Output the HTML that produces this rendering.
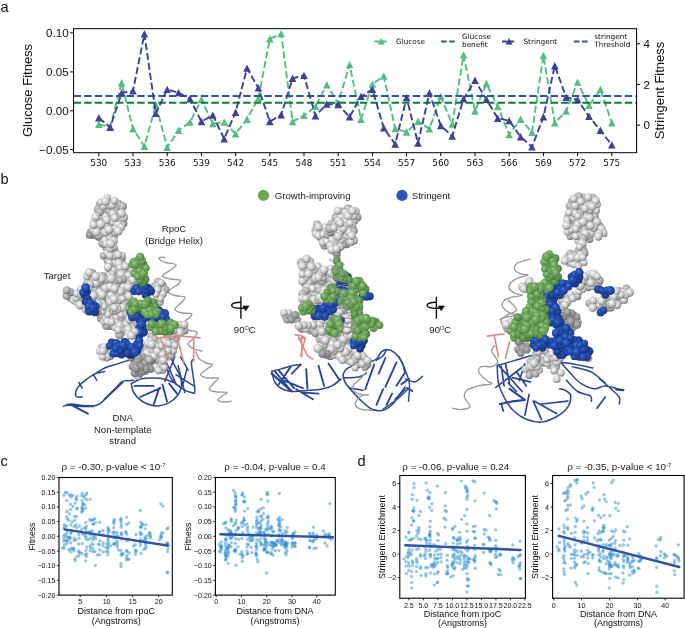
<!DOCTYPE html>
<html><head><meta charset="utf-8"><title>Figure</title>
<style>html,body{margin:0;padding:0;background:#fff}svg{display:block}</style></head>
<body>
<svg width="685" height="628" viewBox="0 0 685 628">
<rect width="685" height="628" fill="#fff"/>
<g id="panel-a">
<path d="M98.8 124.5 L110.2 126.9 L121.6 82.8 L133.0 128.9 L144.4 146.4 L155.8 104.7 L167.2 147.3 L178.6 130.4 L190.0 122.2 L201.4 99.7 L212.8 123.6 L224.2 122.2 L235.6 133.9 L247.0 119.3 L258.4 98.2 L269.8 39.0 L281.2 33.7 L292.6 121.6 L304.0 115.5 L315.4 106.4 L326.8 84.8 L338.2 103.2 L349.6 64.7 L361.0 119.3 L372.4 84.2 L383.8 76.1 L395.2 128.6 L406.6 132.1 L418.0 121.3 L429.4 128.9 L440.8 96.5 L452.2 124.2 L463.6 55.0 L475.0 111.1 L486.4 83.6 L497.8 106.7 L509.2 134.7 L520.6 119.3 L532.0 132.4 L543.4 55.6 L554.8 122.8 L566.2 111.1 L577.6 82.2 L589.0 105.5 L600.4 89.5 L611.8 122.8" stroke="#55bd82" stroke-width="1.9" stroke-dasharray="7 3" fill="none" stroke-linejoin="round"/>
<path d="M98.8 120.7l3.8 7.4h-7.6zM110.2 123.1l3.8 7.4h-7.6zM121.6 79.0l3.8 7.4h-7.6zM133.0 125.1l3.8 7.4h-7.6zM144.4 142.6l3.8 7.4h-7.6zM155.8 100.9l3.8 7.4h-7.6zM167.2 143.5l3.8 7.4h-7.6zM178.6 126.6l3.8 7.4h-7.6zM190.0 118.4l3.8 7.4h-7.6zM201.4 95.9l3.8 7.4h-7.6zM212.8 119.8l3.8 7.4h-7.6zM224.2 118.4l3.8 7.4h-7.6zM235.6 130.1l3.8 7.4h-7.6zM247.0 115.5l3.8 7.4h-7.6zM258.4 94.4l3.8 7.4h-7.6zM269.8 35.2l3.8 7.4h-7.6zM281.2 29.9l3.8 7.4h-7.6zM292.6 117.8l3.8 7.4h-7.6zM304.0 111.7l3.8 7.4h-7.6zM315.4 102.6l3.8 7.4h-7.6zM326.8 81.0l3.8 7.4h-7.6zM338.2 99.4l3.8 7.4h-7.6zM349.6 60.9l3.8 7.4h-7.6zM361.0 115.5l3.8 7.4h-7.6zM372.4 80.4l3.8 7.4h-7.6zM383.8 72.3l3.8 7.4h-7.6zM395.2 124.8l3.8 7.4h-7.6zM406.6 128.3l3.8 7.4h-7.6zM418.0 117.5l3.8 7.4h-7.6zM429.4 125.1l3.8 7.4h-7.6zM440.8 92.7l3.8 7.4h-7.6zM452.2 120.4l3.8 7.4h-7.6zM463.6 51.2l3.8 7.4h-7.6zM475.0 107.3l3.8 7.4h-7.6zM486.4 79.8l3.8 7.4h-7.6zM497.8 102.9l3.8 7.4h-7.6zM509.2 130.9l3.8 7.4h-7.6zM520.6 115.5l3.8 7.4h-7.6zM532.0 128.6l3.8 7.4h-7.6zM543.4 51.8l3.8 7.4h-7.6zM554.8 119.0l3.8 7.4h-7.6zM566.2 107.3l3.8 7.4h-7.6zM577.6 78.4l3.8 7.4h-7.6zM589.0 101.7l3.8 7.4h-7.6zM600.4 85.7l3.8 7.4h-7.6zM611.8 119.0l3.8 7.4h-7.6z" fill="#55bd82"/>
<path d="M73.6 102.7H636.6" stroke="#0a7d37" stroke-width="2" stroke-dasharray="7.4 3.2" fill="none"/>
<path d="M73.6 96.0H636.6" stroke="#2855af" stroke-width="2" stroke-dasharray="7.4 3.2" fill="none"/>
<path d="M98.8 117.8 L110.2 127.4 L121.6 93.0 L133.0 90.9 L144.4 34.0 L155.8 113.4 L167.2 89.5 L178.6 92.7 L190.0 98.8 L201.4 121.6 L212.8 115.2 L224.2 138.8 L235.6 112.3 L247.0 68.2 L258.4 88.0 L269.8 121.6 L281.2 114.9 L292.6 78.4 L304.0 75.5 L315.4 115.8 L326.8 104.1 L338.2 104.7 L349.6 116.9 L361.0 96.5 L372.4 89.5 L383.8 128.0 L395.2 144.1 L406.6 97.7 L418.0 143.2 L429.4 93.0 L440.8 125.7 L452.2 136.2 L463.6 98.8 L475.0 80.4 L486.4 99.4 L497.8 118.4 L509.2 120.7 L520.6 136.8 L532.0 147.0 L543.4 116.9 L554.8 65.8 L566.2 97.4 L577.6 99.7 L589.0 116.4 L600.4 130.4 L611.8 145.0" stroke="#3c4196" stroke-width="1.9" stroke-dasharray="7 3" fill="none" stroke-linejoin="round"/>
<path d="M98.8 114.0l3.8 7.4h-7.6zM110.2 123.6l3.8 7.4h-7.6zM121.6 89.2l3.8 7.4h-7.6zM133.0 87.1l3.8 7.4h-7.6zM144.4 30.2l3.8 7.4h-7.6zM155.8 109.6l3.8 7.4h-7.6zM167.2 85.7l3.8 7.4h-7.6zM178.6 88.9l3.8 7.4h-7.6zM190.0 95.0l3.8 7.4h-7.6zM201.4 117.8l3.8 7.4h-7.6zM212.8 111.4l3.8 7.4h-7.6zM224.2 135.0l3.8 7.4h-7.6zM235.6 108.5l3.8 7.4h-7.6zM247.0 64.4l3.8 7.4h-7.6zM258.4 84.2l3.8 7.4h-7.6zM269.8 117.8l3.8 7.4h-7.6zM281.2 111.1l3.8 7.4h-7.6zM292.6 74.6l3.8 7.4h-7.6zM304.0 71.7l3.8 7.4h-7.6zM315.4 112.0l3.8 7.4h-7.6zM326.8 100.3l3.8 7.4h-7.6zM338.2 100.9l3.8 7.4h-7.6zM349.6 113.1l3.8 7.4h-7.6zM361.0 92.7l3.8 7.4h-7.6zM372.4 85.7l3.8 7.4h-7.6zM383.8 124.2l3.8 7.4h-7.6zM395.2 140.3l3.8 7.4h-7.6zM406.6 93.9l3.8 7.4h-7.6zM418.0 139.4l3.8 7.4h-7.6zM429.4 89.2l3.8 7.4h-7.6zM440.8 121.9l3.8 7.4h-7.6zM452.2 132.4l3.8 7.4h-7.6zM463.6 95.0l3.8 7.4h-7.6zM475.0 76.6l3.8 7.4h-7.6zM486.4 95.6l3.8 7.4h-7.6zM497.8 114.6l3.8 7.4h-7.6zM509.2 116.9l3.8 7.4h-7.6zM520.6 133.0l3.8 7.4h-7.6zM532.0 143.2l3.8 7.4h-7.6zM543.4 113.1l3.8 7.4h-7.6zM554.8 62.0l3.8 7.4h-7.6zM566.2 93.6l3.8 7.4h-7.6zM577.6 95.9l3.8 7.4h-7.6zM589.0 112.6l3.8 7.4h-7.6zM600.4 126.6l3.8 7.4h-7.6zM611.8 141.2l3.8 7.4h-7.6z" fill="#3c4196"/>
<rect x="73.6" y="28.7" width="563.0" height="123.99999999999999" fill="none" stroke="#000" stroke-width="1"/>
<path d="M73.6 32.8h-3.5M73.6 71.9h-3.5M73.6 110.8h-3.5M73.6 149.7h-3.5M636.6 43.8h3.5M636.6 84.5h3.5M636.6 125.2h3.5M98.8 152.7v3.5M133.0 152.7v3.5M167.2 152.7v3.5M201.4 152.7v3.5M235.6 152.7v3.5M269.8 152.7v3.5M304.0 152.7v3.5M338.2 152.7v3.5M372.4 152.7v3.5M406.6 152.7v3.5M440.8 152.7v3.5M475.0 152.7v3.5M509.2 152.7v3.5M543.4 152.7v3.5M577.6 152.7v3.5M611.8 152.7v3.5" stroke="#000" stroke-width="1" fill="none"/>
<g font-family="'Liberation Sans',Arial,sans-serif" font-size="11.6" fill="#111">
<text x="68.6" y="36.9" text-anchor="end">0.10</text>
<text x="68.6" y="76.0" text-anchor="end">0.05</text>
<text x="68.6" y="114.9" text-anchor="end">0.00</text>
<text x="68.6" y="153.8" text-anchor="end">−0.05</text>
<text x="643.6" y="47.9">4</text>
<text x="643.6" y="88.6">2</text>
<text x="643.6" y="129.3">0</text>
</g>
<g font-family="'Liberation Sans',Arial,sans-serif" font-size="13" fill="#111" text-anchor="middle">
<text transform="translate(31.5 90.5) rotate(-90)">Glucose Fitness</text>
<text transform="translate(664 90.5) rotate(-90)">Stringent Fitness</text>
</g>
<g font-family="'DejaVu Sans',sans-serif" font-size="8.9" fill="#111" text-anchor="middle">
<text x="98.8" y="166.3">530</text>
<text x="133.0" y="166.3">533</text>
<text x="167.2" y="166.3">536</text>
<text x="201.4" y="166.3">539</text>
<text x="235.6" y="166.3">542</text>
<text x="269.8" y="166.3">545</text>
<text x="304.0" y="166.3">548</text>
<text x="338.2" y="166.3">551</text>
<text x="372.4" y="166.3">554</text>
<text x="406.6" y="166.3">557</text>
<text x="440.8" y="166.3">560</text>
<text x="475.0" y="166.3">563</text>
<text x="509.2" y="166.3">566</text>
<text x="543.4" y="166.3">569</text>
<text x="577.6" y="166.3">572</text>
<text x="611.8" y="166.3">575</text>
</g>
<path d="M374.5 41.5H388" stroke="#55bd82" stroke-width="1.9" stroke-dasharray="5 2.2" fill="none"/>
<path d="M381.2 37.9l3.5 6.6h-7z" fill="#55bd82"/>
<path d="M441 41.5H455.5" stroke="#0a7d37" stroke-width="2" stroke-dasharray="5.6 2.6" fill="none"/>
<path d="M502 41.5H516" stroke="#3c4196" stroke-width="1.9" stroke-dasharray="5 2.2" fill="none"/>
<path d="M509 37.9l3.5 6.6h-7z" fill="#3c4196"/>
<path d="M573.8 41.5H588" stroke="#2855af" stroke-width="2" stroke-dasharray="5.6 2.6" fill="none"/>
<g font-family="'DejaVu Sans',sans-serif" font-size="7.3" fill="#111">
<text x="396" y="44.1">Glucose</text>
<text x="462" y="38.9">Glucose</text><text x="462" y="46.7">benefit</text>
<text x="523.4" y="44.1">Stringent</text>
<text x="594.3" y="38.9">stringent</text><text x="594.3" y="46.7">Threshold</text>
</g>
<text x="0.5" y="11.5" font-family="'Liberation Sans',Arial,sans-serif" font-size="14.5" fill="#111">a</text>
</g>
<g id="panel-b">
<defs>
<radialGradient id="sg" cx="0.4" cy="0.36" r="0.7"><stop offset="0" stop-color="#fcfcfc"/><stop offset="0.25" stop-color="#e4e4e4"/><stop offset="0.6" stop-color="#bebebe"/><stop offset="0.85" stop-color="#8f8f8f"/><stop offset="1" stop-color="#555555"/></radialGradient>
<radialGradient id="sm" cx="0.4" cy="0.36" r="0.7"><stop offset="0" stop-color="#dadada"/><stop offset="0.3" stop-color="#c0c0c0"/><stop offset="0.7" stop-color="#999999"/><stop offset="1" stop-color="#4e4e4e"/></radialGradient>
<radialGradient id="sd" cx="0.4" cy="0.36" r="0.7"><stop offset="0" stop-color="#bdbdbd"/><stop offset="0.4" stop-color="#9c9c9c"/><stop offset="0.8" stop-color="#7e7e7e"/><stop offset="1" stop-color="#555555"/></radialGradient>
<radialGradient id="sb" cx="0.4" cy="0.36" r="0.7"><stop offset="0" stop-color="#4f7bd8"/><stop offset="0.3" stop-color="#2752b8"/><stop offset="0.75" stop-color="#1b419a"/><stop offset="1" stop-color="#0f2763"/></radialGradient>
<radialGradient id="sc" cx="0.4" cy="0.36" r="0.7"><stop offset="0" stop-color="#3560bd"/><stop offset="0.4" stop-color="#1f4599"/><stop offset="0.8" stop-color="#17357d"/><stop offset="1" stop-color="#0c1f52"/></radialGradient>
<radialGradient id="sn" cx="0.4" cy="0.36" r="0.7"><stop offset="0" stop-color="#a3d193"/><stop offset="0.3" stop-color="#77ac64"/><stop offset="0.75" stop-color="#5f974d"/><stop offset="1" stop-color="#38642d"/></radialGradient>
<radialGradient id="so" cx="0.4" cy="0.36" r="0.7"><stop offset="0" stop-color="#86b776"/><stop offset="0.4" stop-color="#649a52"/><stop offset="0.8" stop-color="#4f8240"/><stop offset="1" stop-color="#2f5526"/></radialGradient>
</defs>
<path d="M165.0 257.6C164.3 257.5 162.0 256.9 161.0 257.2C160.0 257.4 158.4 258.2 159.2 259.1C160.0 260.0 163.2 261.6 166.0 262.5C168.8 263.4 174.9 263.6 175.9 264.7C176.9 265.8 174.2 267.1 172.0 269.0C169.8 270.9 162.8 274.1 162.5 275.8C162.2 277.5 167.0 278.2 170.0 279.0C173.0 279.8 179.2 279.3 180.4 280.3C181.6 281.3 179.1 283.1 177.0 285.0C174.9 286.9 168.4 289.6 168.1 291.4C167.8 293.1 172.2 294.6 175.0 295.5C177.8 296.4 183.6 295.9 184.8 297.0C186.0 298.1 183.7 299.9 182.0 302.0C180.3 304.1 174.8 307.5 174.8 309.3C174.8 311.1 179.2 312.3 182.0 313.0C184.8 313.7 190.3 312.9 191.5 313.7C192.7 314.5 190.7 316.2 189.0 318.0C187.3 319.8 181.7 322.5 181.5 324.5C181.3 326.5 185.4 328.8 188.0 330.0C190.6 331.2 196.0 330.7 197.0 332.0C198.0 333.3 195.5 336.0 194.0 338.0C192.5 340.0 188.0 342.2 188.0 344.0C188.0 345.8 191.7 347.8 194.0 349.0C196.3 350.2 200.7 350.7 202.0 351.0" stroke="#9c9c9c" stroke-width="1.4" fill="none" stroke-linecap="round"/>
<path d="M196.0 352.0C196.5 353.1 197.4 357.0 199.1 358.8C200.8 360.6 203.8 362.0 206.0 363.0C208.2 364.0 212.1 363.7 212.3 364.7C212.5 365.7 208.9 367.3 207.0 369.0C205.1 370.7 200.4 373.4 200.6 374.9C200.8 376.4 205.1 377.5 208.0 378.0C210.9 378.5 217.1 377.0 218.1 377.8C219.1 378.6 215.5 381.1 214.0 383.0C212.5 384.9 208.8 388.0 209.3 389.5C209.8 391.0 214.1 391.5 217.0 392.0C219.9 392.5 226.1 391.7 226.9 392.4C227.7 393.1 223.5 394.8 222.0 396.0C220.5 397.2 217.8 398.7 218.1 399.7C218.4 400.7 221.8 401.8 224.0 402.0C226.2 402.2 230.0 401.3 231.2 401.2" stroke="#9c9c9c" stroke-width="1.4" fill="none" stroke-linecap="round"/>
<path d="M131.3 383.6C131.7 385.1 131.7 389.6 133.6 392.5C135.4 395.5 138.8 399.2 142.5 401.5C146.2 403.7 151.4 405.7 155.9 405.9C160.3 406.1 165.5 404.4 169.2 402.6C172.9 400.7 176.1 397.6 178.1 394.8C180.2 392.0 181.1 388.8 181.5 385.9C181.9 382.9 181.5 380.3 180.4 376.9C179.3 373.6 176.3 368.8 174.8 365.8C173.3 362.8 172.0 360.2 171.5 359.1M131.3 383.6C132.8 382.9 136.5 380.1 140.2 379.2C144.0 378.2 149.5 378.1 153.6 378.1C157.7 378.1 161.1 378.2 164.8 379.2C168.5 380.1 174.1 382.9 175.9 383.6M161.4 354.6C162.2 356.5 164.2 361.7 165.9 365.8C167.6 369.9 168.9 375.5 171.5 379.2C174.1 382.9 178.1 385.9 181.5 388.1C184.8 390.3 189.3 392.2 191.5 392.5C193.7 392.9 194.9 395.1 194.9 390.3C194.9 385.5 191.7 368.8 191.5 363.6C191.3 358.4 193.4 359.8 193.7 359.1M129.1 360.2C127.2 360.8 122.0 362.3 118.0 363.6C113.9 364.9 108.7 366.2 104.6 368.0C100.5 369.9 96.4 372.9 93.4 374.7C90.5 376.6 89.2 377.3 86.7 379.2C84.3 381.0 80.8 383.6 78.9 385.9C77.1 388.1 76.0 390.8 75.6 392.5C75.2 394.3 75.6 395.8 76.7 396.6C77.8 397.3 81.4 396.9 82.3 397.0M133.6 380.3C131.7 380.5 125.4 380.1 122.4 381.4C119.4 382.7 118.3 385.5 115.7 388.1C113.1 390.7 109.4 394.4 106.8 397.0C104.2 399.6 102.4 402.2 100.1 403.7C97.9 405.2 96.4 405.6 93.4 405.9C90.5 406.2 86.0 405.8 82.3 405.5C78.6 405.2 74.3 404.0 71.1 404.1C68.0 404.3 64.6 406.0 63.3 406.4" stroke="#2b459a" stroke-width="1.5" fill="none" stroke-linecap="round" stroke-linejoin="round"/>
<path d="M174.8 356.9 L164.8 381.4M178.1 365.8 L184.8 392.5M187.1 368.0 L182.6 385.9M175.9 374.7 L193.7 385.9M167.0 363.6 L175.9 383.6M180.4 356.9 L188.2 370.2M93.4 374.7 L96.8 380.3M78.9 382.5 L82.3 388.1M97.9 372.9 L104.6 371.4" stroke="#2b459a" stroke-width="1.5" fill="none" stroke-linecap="round" stroke-linejoin="round"/>
<path d="M134.7 385.9 L153.6 385.9M140.2 397.0 L160.3 388.1M153.6 404.8 L159.2 388.1M167.0 401.5 L162.5 384.7M177.0 393.7 L169.2 383.6M71.1 404.8 L87.9 413.7M66.7 404.8 L82.3 406.4 L93.4 406.4M104.6 399.2 L122.4 382.5" stroke="#2b459a" stroke-width="1.9" fill="none" stroke-linecap="round" stroke-linejoin="round"/>
<g fill="url(#sd)"><circle cx="98.5" cy="236.5" r="4.4"/><circle cx="90.8" cy="232.1" r="3.9"/><circle cx="92.6" cy="234.8" r="4.2"/><circle cx="89.5" cy="234.9" r="3.7"/></g>
<g fill="url(#sm)"><circle cx="118.3" cy="203.8" r="4.4"/><circle cx="108.9" cy="209.3" r="4.1"/><circle cx="121.3" cy="220.3" r="4.5"/><circle cx="123.3" cy="223.4" r="4.1"/><circle cx="103.2" cy="220.0" r="4.6"/><circle cx="99.4" cy="204.3" r="3.7"/><circle cx="109.0" cy="223.4" r="4.4"/><circle cx="107.4" cy="212.2" r="4.3"/><circle cx="103.7" cy="236.4" r="3.7"/><circle cx="103.1" cy="213.3" r="4.0"/><circle cx="111.3" cy="216.8" r="4.5"/><circle cx="97.8" cy="224.5" r="3.9"/><circle cx="115.6" cy="208.7" r="4.0"/><circle cx="116.0" cy="213.3" r="3.7"/><circle cx="122.4" cy="206.4" r="4.5"/><circle cx="110.3" cy="232.5" r="3.5"/><circle cx="98.0" cy="209.3" r="4.1"/><circle cx="113.6" cy="236.3" r="4.2"/><circle cx="100.5" cy="217.5" r="4.1"/><circle cx="99.8" cy="211.9" r="4.4"/><circle cx="109.4" cy="201.7" r="3.9"/></g>
<g fill="url(#sg)"><circle cx="102.3" cy="232.9" r="3.9"/><circle cx="104.4" cy="224.9" r="4.6"/><circle cx="98.6" cy="235.3" r="3.6"/><circle cx="114.7" cy="231.9" r="4.5"/><circle cx="108.7" cy="204.9" r="4.4"/><circle cx="108.6" cy="235.9" r="4.5"/><circle cx="93.7" cy="221.8" r="3.6"/><circle cx="108.9" cy="239.0" r="3.8"/><circle cx="107.3" cy="198.0" r="3.9"/><circle cx="103.5" cy="206.4" r="3.6"/><circle cx="112.5" cy="222.0" r="3.8"/><circle cx="123.6" cy="217.2" r="4.6"/><circle cx="112.1" cy="204.8" r="4.5"/><circle cx="100.8" cy="201.8" r="3.8"/><circle cx="121.6" cy="213.4" r="4.3"/><circle cx="105.4" cy="216.6" r="3.5"/><circle cx="118.0" cy="224.5" r="4.1"/><circle cx="115.6" cy="228.9" r="3.5"/><circle cx="121.1" cy="227.2" r="3.9"/><circle cx="93.4" cy="229.8" r="4.0"/><circle cx="112.7" cy="213.5" r="3.8"/><circle cx="105.5" cy="201.4" r="4.5"/><circle cx="114.2" cy="200.7" r="3.7"/><circle cx="118.1" cy="231.1" r="4.5"/><circle cx="106.7" cy="220.1" r="4.0"/><circle cx="98.5" cy="227.4" r="3.5"/><circle cx="105.6" cy="232.3" r="4.1"/><circle cx="95.6" cy="216.9" r="4.3"/><circle cx="96.5" cy="231.9" r="4.5"/><circle cx="93.4" cy="224.9" r="4.0"/><circle cx="100.8" cy="224.1" r="4.6"/><circle cx="108.9" cy="229.7" r="4.5"/><circle cx="114.7" cy="218.0" r="4.1"/></g>
<g fill="url(#sm)"><circle cx="114.6" cy="251.0" r="4.2"/><circle cx="121.4" cy="258.4" r="4.4"/><circle cx="105.8" cy="247.6" r="3.6"/><circle cx="125.9" cy="278.3" r="4.2"/><circle cx="122.2" cy="264.6" r="4.3"/><circle cx="123.8" cy="275.6" r="3.5"/><circle cx="102.7" cy="243.3" r="4.5"/><circle cx="109.5" cy="269.8" r="3.7"/><circle cx="116.1" cy="274.5" r="4.0"/><circle cx="107.2" cy="260.4" r="3.7"/><circle cx="115.0" cy="266.3" r="4.0"/><circle cx="123.8" cy="271.4" r="4.2"/><circle cx="103.3" cy="255.8" r="3.6"/><circle cx="131.1" cy="270.0" r="4.5"/><circle cx="110.6" cy="260.1" r="4.0"/></g>
<g fill="url(#sg)"><circle cx="113.8" cy="240.8" r="4.1"/><circle cx="132.9" cy="274.5" r="4.2"/><circle cx="121.9" cy="255.6" r="3.9"/><circle cx="107.4" cy="252.9" r="3.8"/><circle cx="113.4" cy="247.0" r="4.2"/><circle cx="117.7" cy="270.7" r="4.1"/><circle cx="114.5" cy="262.9" r="3.8"/><circle cx="112.8" cy="270.8" r="4.3"/><circle cx="104.8" cy="240.4" r="3.8"/><circle cx="109.3" cy="262.9" r="3.5"/><circle cx="113.7" cy="256.5" r="3.8"/><circle cx="111.6" cy="274.1" r="3.5"/><circle cx="105.9" cy="243.9" r="3.7"/><circle cx="108.0" cy="267.1" r="4.3"/><circle cx="110.3" cy="248.5" r="3.9"/><circle cx="118.7" cy="263.6" r="4.5"/><circle cx="108.0" cy="276.2" r="4.3"/><circle cx="119.8" cy="267.6" r="3.6"/><circle cx="110.8" cy="243.8" r="4.6"/><circle cx="121.1" cy="274.4" r="4.5"/><circle cx="110.0" cy="255.8" r="3.6"/><circle cx="128.5" cy="276.1" r="4.5"/><circle cx="125.1" cy="266.2" r="4.0"/><circle cx="118.2" cy="254.7" r="4.0"/></g>
<g fill="url(#sm)"><circle cx="105.2" cy="302.1" r="4.4"/><circle cx="125.6" cy="298.1" r="3.6"/><circle cx="119.3" cy="312.0" r="3.6"/><circle cx="102.7" cy="299.7" r="4.5"/><circle cx="102.6" cy="288.5" r="3.9"/><circle cx="120.5" cy="286.7" r="4.1"/><circle cx="112.8" cy="292.6" r="4.0"/><circle cx="110.1" cy="326.4" r="3.5"/><circle cx="127.8" cy="280.4" r="4.5"/><circle cx="129.5" cy="291.9" r="3.8"/><circle cx="123.1" cy="279.4" r="4.2"/><circle cx="100.8" cy="318.2" r="4.0"/><circle cx="123.4" cy="319.8" r="3.9"/><circle cx="107.0" cy="283.7" r="3.9"/><circle cx="92.9" cy="279.7" r="4.4"/><circle cx="116.6" cy="284.2" r="4.5"/><circle cx="106.3" cy="325.3" r="4.5"/><circle cx="115.0" cy="295.8" r="3.8"/><circle cx="108.2" cy="291.4" r="4.4"/><circle cx="97.1" cy="288.5" r="3.8"/><circle cx="97.3" cy="279.3" r="4.5"/><circle cx="117.6" cy="292.1" r="4.6"/><circle cx="105.5" cy="296.5" r="4.0"/><circle cx="126.4" cy="306.0" r="3.6"/><circle cx="113.2" cy="314.3" r="4.5"/><circle cx="103.0" cy="276.2" r="4.1"/><circle cx="109.5" cy="307.3" r="4.2"/><circle cx="115.6" cy="302.5" r="4.5"/><circle cx="121.5" cy="322.5" r="4.5"/><circle cx="98.9" cy="298.9" r="4.6"/><circle cx="87.0" cy="283.0" r="4.3"/><circle cx="105.5" cy="280.3" r="4.5"/><circle cx="97.6" cy="295.3" r="3.9"/><circle cx="124.1" cy="311.7" r="4.1"/><circle cx="91.4" cy="288.0" r="4.1"/><circle cx="119.7" cy="280.3" r="3.7"/><circle cx="123.7" cy="296.1" r="4.2"/><circle cx="92.3" cy="273.1" r="4.0"/><circle cx="94.8" cy="290.4" r="3.6"/></g>
<g fill="url(#sg)"><circle cx="135.7" cy="282.9" r="3.6"/><circle cx="98.8" cy="282.4" r="4.1"/><circle cx="111.9" cy="305.6" r="3.6"/><circle cx="129.5" cy="304.1" r="4.5"/><circle cx="120.0" cy="296.3" r="4.1"/><circle cx="118.6" cy="319.2" r="4.0"/><circle cx="86.9" cy="276.3" r="3.8"/><circle cx="105.7" cy="288.2" r="4.3"/><circle cx="99.5" cy="275.3" r="3.5"/><circle cx="132.6" cy="286.6" r="3.7"/><circle cx="99.9" cy="292.3" r="4.0"/><circle cx="127.9" cy="311.6" r="4.0"/><circle cx="115.4" cy="317.9" r="4.1"/><circle cx="109.5" cy="298.8" r="3.7"/><circle cx="90.3" cy="292.2" r="4.3"/><circle cx="110.9" cy="295.2" r="3.8"/><circle cx="119.5" cy="303.8" r="3.8"/><circle cx="130.1" cy="284.1" r="4.0"/><circle cx="121.4" cy="314.6" r="3.8"/><circle cx="126.9" cy="290.2" r="3.9"/><circle cx="123.9" cy="302.3" r="3.7"/><circle cx="89.1" cy="272.4" r="4.4"/><circle cx="128.9" cy="296.1" r="4.4"/><circle cx="113.8" cy="310.7" r="4.5"/><circle cx="109.8" cy="311.4" r="3.7"/><circle cx="95.8" cy="283.3" r="4.4"/><circle cx="100.1" cy="314.2" r="4.3"/><circle cx="112.6" cy="284.0" r="3.6"/><circle cx="123.5" cy="287.0" r="3.8"/><circle cx="101.3" cy="278.8" r="4.4"/><circle cx="122.5" cy="307.5" r="4.5"/><circle cx="117.1" cy="306.5" r="3.5"/><circle cx="109.9" cy="286.9" r="4.2"/><circle cx="110.0" cy="318.3" r="4.3"/><circle cx="117.0" cy="298.5" r="4.1"/><circle cx="132.6" cy="280.0" r="4.1"/><circle cx="102.0" cy="303.2" r="3.8"/><circle cx="128.0" cy="287.1" r="4.5"/><circle cx="102.1" cy="294.9" r="4.6"/><circle cx="113.9" cy="280.4" r="4.2"/><circle cx="103.9" cy="321.4" r="3.8"/><circle cx="120.5" cy="291.4" r="4.4"/><circle cx="95.2" cy="299.9" r="4.6"/><circle cx="106.8" cy="309.7" r="3.8"/><circle cx="109.8" cy="302.1" r="4.0"/><circle cx="114.6" cy="288.6" r="4.5"/><circle cx="90.3" cy="284.2" r="3.9"/><circle cx="111.3" cy="278.5" r="4.6"/><circle cx="116.0" cy="323.6" r="4.4"/><circle cx="106.0" cy="318.0" r="4.0"/><circle cx="107.6" cy="314.6" r="3.7"/><circle cx="95.7" cy="276.5" r="4.4"/><circle cx="102.3" cy="311.7" r="3.6"/><circle cx="115.7" cy="327.2" r="4.3"/><circle cx="107.4" cy="321.5" r="3.8"/><circle cx="119.7" cy="325.4" r="4.3"/><circle cx="103.7" cy="306.3" r="4.1"/><circle cx="88.5" cy="287.0" r="3.8"/><circle cx="111.6" cy="322.2" r="3.8"/></g>
<g fill="url(#sm)"><circle cx="87.3" cy="294.0" r="3.9"/><circle cx="70.7" cy="297.7" r="4.2"/><circle cx="66.7" cy="295.5" r="4.3"/><circle cx="70.3" cy="292.0" r="4.0"/><circle cx="91.8" cy="301.0" r="4.0"/><circle cx="93.7" cy="305.0" r="4.2"/><circle cx="83.6" cy="290.1" r="3.7"/><circle cx="97.5" cy="311.9" r="4.0"/><circle cx="81.3" cy="300.5" r="4.1"/><circle cx="66.8" cy="290.3" r="4.0"/><circle cx="80.9" cy="296.9" r="3.6"/></g>
<g fill="url(#sg)"><circle cx="93.5" cy="311.3" r="3.8"/><circle cx="88.1" cy="290.1" r="4.5"/><circle cx="73.8" cy="300.0" r="4.2"/><circle cx="88.0" cy="300.2" r="4.1"/><circle cx="86.0" cy="309.2" r="4.3"/><circle cx="77.2" cy="301.9" r="4.1"/><circle cx="91.8" cy="307.5" r="4.1"/><circle cx="98.3" cy="304.2" r="4.2"/><circle cx="76.1" cy="298.1" r="3.7"/><circle cx="96.6" cy="308.5" r="3.6"/><circle cx="90.0" cy="305.3" r="3.6"/><circle cx="80.0" cy="305.1" r="4.3"/><circle cx="85.0" cy="297.5" r="4.4"/><circle cx="76.7" cy="293.7" r="3.7"/><circle cx="80.7" cy="288.9" r="3.8"/><circle cx="81.5" cy="294.0" r="4.4"/><circle cx="85.6" cy="305.2" r="3.6"/></g>
<g fill="url(#sm)"><circle cx="162.8" cy="285.1" r="3.9"/><circle cx="165.9" cy="289.4" r="3.6"/><circle cx="159.4" cy="293.5" r="3.9"/><circle cx="158.0" cy="281.6" r="3.9"/><circle cx="155.1" cy="285.8" r="4.0"/></g>
<g fill="url(#sg)"><circle cx="159.9" cy="301.9" r="3.8"/><circle cx="161.6" cy="289.2" r="3.7"/><circle cx="158.4" cy="285.9" r="3.9"/><circle cx="162.8" cy="293.7" r="4.0"/><circle cx="160.9" cy="283.0" r="3.7"/><circle cx="157.5" cy="289.8" r="4.2"/><circle cx="160.5" cy="298.5" r="3.8"/><circle cx="155.8" cy="294.5" r="3.6"/></g>
<g fill="url(#sm)"><circle cx="130.3" cy="326.0" r="4.0"/><circle cx="126.5" cy="314.7" r="4.6"/><circle cx="124.6" cy="334.6" r="3.8"/><circle cx="124.6" cy="326.8" r="3.6"/><circle cx="130.4" cy="322.6" r="4.0"/><circle cx="134.3" cy="326.0" r="4.3"/><circle cx="122.2" cy="330.4" r="4.5"/><circle cx="137.0" cy="323.3" r="3.6"/><circle cx="138.8" cy="334.2" r="4.0"/><circle cx="137.9" cy="327.5" r="3.6"/><circle cx="119.5" cy="334.6" r="4.5"/></g>
<g fill="url(#sg)"><circle cx="93.4" cy="295.5" r="4.6"/><circle cx="119.1" cy="300.4" r="3.6"/><circle cx="114.0" cy="299.3" r="4.5"/><circle cx="132.7" cy="329.8" r="4.4"/><circle cx="126.4" cy="323.7" r="3.7"/><circle cx="118.2" cy="330.0" r="3.9"/><circle cx="128.4" cy="329.5" r="4.5"/><circle cx="128.7" cy="334.5" r="4.6"/><circle cx="143.1" cy="333.2" r="3.7"/><circle cx="142.0" cy="330.1" r="3.8"/><circle cx="117.3" cy="309.6" r="4.0"/><circle cx="129.2" cy="319.4" r="4.2"/><circle cx="122.3" cy="298.7" r="3.5"/><circle cx="142.5" cy="325.3" r="4.3"/><circle cx="135.0" cy="335.2" r="4.0"/><circle cx="114.4" cy="307.8" r="4.0"/><circle cx="126.3" cy="338.0" r="3.6"/></g>
<g fill="url(#sm)"><circle cx="171.6" cy="325.0" r="4.2"/><circle cx="184.6" cy="330.7" r="3.8"/><circle cx="181.9" cy="326.4" r="4.2"/><circle cx="169.3" cy="328.1" r="3.5"/></g>
<g fill="url(#sg)"><circle cx="176.1" cy="338.2" r="4.2"/><circle cx="176.5" cy="334.4" r="3.5"/><circle cx="179.1" cy="324.6" r="3.9"/><circle cx="175.0" cy="325.1" r="4.2"/><circle cx="180.0" cy="332.5" r="4.5"/><circle cx="184.4" cy="324.7" r="3.9"/><circle cx="172.3" cy="335.7" r="3.8"/><circle cx="173.7" cy="330.7" r="3.6"/></g>
<g fill="url(#sm)"><circle cx="108.8" cy="352.2" r="4.5"/><circle cx="110.3" cy="348.4" r="4.5"/><circle cx="110.3" cy="356.5" r="3.5"/><circle cx="101.7" cy="347.5" r="3.9"/></g>
<g fill="url(#sg)"><circle cx="106.6" cy="357.4" r="4.1"/><circle cx="111.8" cy="352.5" r="4.1"/><circle cx="99.4" cy="351.2" r="3.6"/><circle cx="104.6" cy="347.6" r="4.4"/><circle cx="102.6" cy="356.7" r="3.8"/><circle cx="102.8" cy="351.1" r="4.1"/></g>
<g fill="url(#sm)"><circle cx="133.1" cy="359.1" r="3.7"/><circle cx="158.1" cy="355.1" r="3.7"/><circle cx="143.0" cy="358.4" r="4.1"/><circle cx="151.5" cy="336.3" r="4.2"/><circle cx="142.6" cy="350.4" r="3.6"/><circle cx="153.5" cy="363.3" r="4.3"/><circle cx="144.5" cy="347.7" r="4.1"/><circle cx="141.5" cy="371.2" r="4.5"/><circle cx="152.7" cy="366.6" r="4.5"/><circle cx="149.2" cy="364.1" r="4.3"/><circle cx="157.3" cy="359.9" r="3.9"/><circle cx="135.6" cy="363.9" r="4.5"/><circle cx="154.8" cy="346.7" r="4.3"/><circle cx="154.4" cy="339.2" r="3.8"/><circle cx="151.9" cy="359.7" r="4.4"/></g>
<g fill="url(#sg)"><circle cx="155.9" cy="367.5" r="4.3"/><circle cx="150.2" cy="340.7" r="3.8"/><circle cx="135.5" cy="371.7" r="3.8"/><circle cx="134.5" cy="367.8" r="3.5"/><circle cx="158.4" cy="348.0" r="4.1"/><circle cx="162.4" cy="370.3" r="3.8"/><circle cx="139.0" cy="360.3" r="3.8"/><circle cx="157.1" cy="345.2" r="3.8"/><circle cx="149.2" cy="346.7" r="3.6"/><circle cx="148.2" cy="343.5" r="4.0"/><circle cx="158.6" cy="370.5" r="3.8"/><circle cx="150.3" cy="352.0" r="3.8"/><circle cx="141.0" cy="354.5" r="3.8"/><circle cx="138.3" cy="376.1" r="4.1"/><circle cx="138.2" cy="366.3" r="4.5"/><circle cx="145.4" cy="371.0" r="3.7"/><circle cx="146.9" cy="353.0" r="4.4"/><circle cx="151.6" cy="344.4" r="4.4"/><circle cx="162.4" cy="364.1" r="4.2"/><circle cx="157.3" cy="351.4" r="4.1"/><circle cx="148.7" cy="356.5" r="4.3"/><circle cx="141.7" cy="364.6" r="4.1"/><circle cx="153.7" cy="356.6" r="4.2"/></g>
<g fill="url(#sd)"><circle cx="150.9" cy="361.0" r="3.8"/><circle cx="139.8" cy="373.6" r="3.8"/><circle cx="143.0" cy="358.1" r="4.6"/><circle cx="140.7" cy="363.3" r="4.0"/><circle cx="133.5" cy="359.4" r="3.7"/><circle cx="147.9" cy="358.8" r="3.7"/><circle cx="134.7" cy="373.0" r="4.2"/><circle cx="138.8" cy="359.0" r="4.4"/><circle cx="137.1" cy="361.7" r="4.3"/><circle cx="138.3" cy="370.4" r="4.2"/><circle cx="148.7" cy="364.9" r="3.6"/><circle cx="150.5" cy="369.1" r="3.9"/><circle cx="142.4" cy="370.7" r="4.6"/><circle cx="144.9" cy="363.3" r="3.7"/><circle cx="134.9" cy="365.0" r="3.9"/><circle cx="131.0" cy="357.6" r="3.8"/><circle cx="146.0" cy="368.8" r="3.9"/></g>
<g fill="url(#sm)"><circle cx="160.2" cy="341.7" r="3.6"/><circle cx="173.1" cy="343.0" r="4.2"/><circle cx="166.5" cy="355.5" r="4.5"/><circle cx="166.8" cy="339.2" r="4.3"/><circle cx="170.9" cy="355.3" r="4.5"/></g>
<g fill="url(#sg)"><circle cx="172.9" cy="350.7" r="4.0"/><circle cx="166.0" cy="346.4" r="3.9"/><circle cx="164.9" cy="350.1" r="3.6"/><circle cx="168.2" cy="350.4" r="3.8"/><circle cx="164.1" cy="342.4" r="4.5"/><circle cx="162.5" cy="354.6" r="3.6"/><circle cx="161.4" cy="345.9" r="3.7"/><circle cx="168.7" cy="343.6" r="3.9"/><circle cx="174.9" cy="345.7" r="3.6"/></g>
<g fill="url(#sm)"><circle cx="149.1" cy="359.8" r="4.3"/></g>
<g fill="url(#sg)"><circle cx="164.3" cy="367.4" r="3.8"/><circle cx="163.2" cy="360.5" r="4.3"/></g>
<g fill="url(#sd)"><circle cx="132.4" cy="366.5" r="3.8"/><circle cx="140.3" cy="367.0" r="4.2"/><circle cx="135.8" cy="368.1" r="4.4"/></g>
<g fill="url(#sc)"><circle cx="86.5" cy="291.8" r="4.4"/><circle cx="84.8" cy="295.0" r="4.1"/><circle cx="87.3" cy="299.2" r="4.5"/><circle cx="85.6" cy="301.7" r="3.8"/><circle cx="94.8" cy="311.8" r="4.4"/></g>
<g fill="url(#sb)"><circle cx="96.3" cy="306.0" r="3.5"/><circle cx="93.4" cy="304.1" r="3.6"/><circle cx="82.7" cy="292.4" r="3.6"/><circle cx="89.3" cy="311.0" r="4.6"/><circle cx="85.7" cy="287.8" r="4.5"/><circle cx="90.2" cy="303.0" r="3.7"/><circle cx="88.5" cy="306.3" r="3.8"/><circle cx="92.7" cy="307.8" r="4.5"/></g>
<g fill="url(#sc)"><circle cx="145.8" cy="294.9" r="4.1"/><circle cx="142.2" cy="283.5" r="4.6"/><circle cx="148.0" cy="287.7" r="3.9"/><circle cx="150.8" cy="291.1" r="4.3"/></g>
<g fill="url(#sb)"><circle cx="141.3" cy="287.9" r="3.5"/><circle cx="134.2" cy="290.9" r="4.0"/><circle cx="136.5" cy="288.1" r="4.3"/><circle cx="138.7" cy="291.6" r="3.8"/><circle cx="146.0" cy="290.0" r="4.2"/><circle cx="145.2" cy="286.3" r="3.7"/></g>
<g fill="url(#sc)"><circle cx="140.9" cy="316.8" r="4.0"/><circle cx="139.3" cy="335.4" r="4.2"/><circle cx="130.4" cy="311.9" r="3.9"/><circle cx="138.3" cy="313.6" r="4.3"/><circle cx="142.8" cy="320.6" r="3.9"/><circle cx="143.6" cy="331.9" r="4.4"/></g>
<g fill="url(#sb)"><circle cx="139.3" cy="319.9" r="4.0"/><circle cx="143.3" cy="327.2" r="3.6"/><circle cx="132.1" cy="317.3" r="4.0"/><circle cx="145.0" cy="317.9" r="4.2"/><circle cx="137.3" cy="343.8" r="4.4"/><circle cx="139.3" cy="327.9" r="4.3"/><circle cx="139.1" cy="340.9" r="4.3"/><circle cx="141.2" cy="324.2" r="4.2"/><circle cx="136.1" cy="316.0" r="4.5"/><circle cx="140.0" cy="332.3" r="3.5"/></g>
<g fill="url(#sc)"><circle cx="143.9" cy="313.3" r="4.6"/><circle cx="156.2" cy="319.0" r="3.7"/><circle cx="140.0" cy="308.3" r="3.7"/><circle cx="148.0" cy="311.9" r="4.4"/><circle cx="158.5" cy="309.6" r="3.7"/><circle cx="142.4" cy="305.7" r="3.7"/><circle cx="161.2" cy="319.1" r="3.9"/><circle cx="149.8" cy="317.3" r="4.3"/></g>
<g fill="url(#sb)"><circle cx="137.8" cy="305.4" r="4.3"/><circle cx="151.1" cy="312.1" r="4.4"/><circle cx="153.0" cy="315.3" r="4.2"/><circle cx="152.7" cy="320.5" r="4.3"/><circle cx="164.7" cy="313.6" r="4.5"/><circle cx="135.3" cy="307.2" r="4.2"/><circle cx="165.8" cy="319.5" r="4.6"/><circle cx="133.6" cy="304.7" r="4.4"/><circle cx="160.5" cy="312.5" r="4.5"/><circle cx="158.4" cy="315.9" r="4.3"/><circle cx="133.2" cy="311.8" r="3.9"/><circle cx="162.7" cy="316.5" r="3.6"/></g>
<g fill="url(#sc)"><circle cx="121.4" cy="354.4" r="4.2"/><circle cx="131.3" cy="354.2" r="4.6"/><circle cx="111.7" cy="342.3" r="3.7"/><circle cx="125.9" cy="348.9" r="3.9"/><circle cx="124.6" cy="342.1" r="4.1"/><circle cx="134.4" cy="348.7" r="3.6"/><circle cx="127.9" cy="353.3" r="4.4"/><circle cx="137.9" cy="351.0" r="3.6"/></g>
<g fill="url(#sb)"><circle cx="113.4" cy="353.4" r="4.2"/><circle cx="139.8" cy="345.6" r="3.8"/><circle cx="116.4" cy="343.0" r="3.9"/><circle cx="118.5" cy="346.1" r="4.2"/><circle cx="116.9" cy="353.6" r="3.7"/><circle cx="127.0" cy="344.5" r="4.0"/><circle cx="119.7" cy="350.0" r="4.4"/><circle cx="122.9" cy="345.6" r="4.6"/><circle cx="109.5" cy="346.0" r="3.8"/><circle cx="131.7" cy="347.0" r="3.9"/><circle cx="135.0" cy="352.2" r="4.3"/><circle cx="115.4" cy="348.5" r="3.7"/></g>
<g fill="url(#sg)"><circle cx="134.8" cy="331.8" r="3.8"/><circle cx="131.3" cy="335.6" r="4.4"/></g>
<g fill="url(#so)"><circle cx="145.2" cy="279.3" r="4.3"/><circle cx="142.5" cy="282.8" r="3.9"/><circle cx="140.9" cy="277.3" r="4.0"/><circle cx="142.8" cy="268.2" r="4.3"/><circle cx="143.2" cy="264.2" r="4.3"/><circle cx="139.5" cy="265.8" r="4.0"/><circle cx="139.8" cy="281.1" r="3.6"/></g>
<g fill="url(#sn)"><circle cx="132.0" cy="264.4" r="3.6"/><circle cx="134.1" cy="273.3" r="3.7"/><circle cx="138.4" cy="260.0" r="4.4"/><circle cx="142.0" cy="260.6" r="4.0"/><circle cx="137.4" cy="268.6" r="4.2"/><circle cx="140.2" cy="256.7" r="3.9"/><circle cx="139.8" cy="271.3" r="3.9"/><circle cx="137.5" cy="276.4" r="3.7"/><circle cx="143.4" cy="273.3" r="4.6"/><circle cx="133.6" cy="261.9" r="4.2"/><circle cx="146.1" cy="268.0" r="3.6"/><circle cx="135.1" cy="264.4" r="4.3"/></g>
<g fill="url(#so)"><circle cx="131.8" cy="304.0" r="4.6"/><circle cx="139.0" cy="307.9" r="4.1"/></g>
<g fill="url(#sn)"><circle cx="131.7" cy="311.5" r="4.2"/><circle cx="133.9" cy="301.5" r="4.1"/><circle cx="140.8" cy="303.9" r="4.4"/><circle cx="134.4" cy="308.7" r="4.0"/><circle cx="135.6" cy="304.0" r="3.6"/></g>
<g fill="url(#so)"><circle cx="153.5" cy="302.3" r="4.0"/><circle cx="151.5" cy="307.1" r="4.0"/><circle cx="146.9" cy="306.8" r="4.1"/><circle cx="155.3" cy="306.3" r="3.8"/><circle cx="147.8" cy="300.7" r="4.4"/></g>
<g fill="url(#sn)"><circle cx="153.3" cy="311.5" r="3.9"/><circle cx="145.1" cy="311.9" r="4.4"/><circle cx="144.9" cy="304.1" r="4.4"/><circle cx="149.7" cy="310.2" r="3.5"/><circle cx="147.3" cy="314.5" r="4.1"/><circle cx="157.4" cy="311.6" r="3.6"/><circle cx="155.4" cy="313.9" r="4.5"/><circle cx="151.0" cy="314.5" r="3.6"/></g>
<g fill="url(#so)"><circle cx="164.0" cy="324.8" r="4.3"/><circle cx="157.4" cy="328.9" r="3.8"/><circle cx="170.7" cy="323.0" r="4.3"/><circle cx="170.0" cy="331.2" r="4.4"/><circle cx="164.8" cy="332.2" r="3.6"/></g>
<g fill="url(#sn)"><circle cx="163.8" cy="327.7" r="3.7"/><circle cx="154.6" cy="325.2" r="3.8"/><circle cx="174.6" cy="324.8" r="4.3"/><circle cx="150.3" cy="327.0" r="4.3"/><circle cx="160.3" cy="331.4" r="3.8"/><circle cx="155.7" cy="331.6" r="4.0"/><circle cx="171.0" cy="328.2" r="3.9"/><circle cx="151.5" cy="324.1" r="4.0"/><circle cx="161.3" cy="323.6" r="4.4"/></g>
<path d="M157.0 337.9 L178.1 335.7 L200.0 337.9M161.4 340.2 L169.2 360.2M177.0 336.8 L183.7 362.4M193.7 337.9 L193.7 361.3" stroke="#dd8a86" stroke-width="1.6" fill="none" stroke-linecap="round" stroke-linejoin="round"/>
<path d="M271.7 371.3C273.2 371.0 277.3 370.0 280.6 369.1C283.9 368.2 288.4 366.5 291.7 365.8C295.1 365.0 299.2 364.8 300.7 364.6M271.7 371.3C272.2 373.2 273.2 379.5 275.0 382.5C276.9 385.5 279.7 387.7 282.8 389.2C286.0 390.7 289.9 391.2 294.0 391.4C298.1 391.6 302.9 390.7 307.4 390.3C311.8 389.9 316.6 389.9 320.7 389.2C324.8 388.4 328.5 387.5 331.9 385.8C335.2 384.2 339.3 380.2 340.8 379.1M343.0 374.7C343.6 373.7 344.1 370.8 346.4 369.1C348.6 367.4 352.9 365.8 356.4 364.6C359.9 363.5 364.2 363.3 367.5 362.4C370.9 361.5 374.2 360.7 376.5 359.1C378.7 357.4 379.2 354.0 380.9 352.4C382.6 350.8 384.3 349.5 386.5 349.5C388.7 349.5 391.7 350.2 394.3 352.4C396.9 354.5 400.3 358.9 402.1 362.4C403.9 365.9 404.5 371.7 405.0 373.6M386.5 349.5C385.9 350.5 384.8 353.9 383.1 355.7C381.5 357.5 377.6 359.4 376.5 360.2M343.0 374.7C343.4 376.0 343.4 379.3 345.2 382.5C347.1 385.6 351.2 390.3 354.2 393.6C357.1 397.0 360.1 399.9 363.1 402.5C366.1 405.1 368.7 407.9 372.0 409.2C375.3 410.5 379.8 411.1 383.1 410.3C386.5 409.6 389.5 407.2 392.1 404.8C394.7 402.4 396.6 398.8 398.7 395.9C400.9 392.9 404.0 388.4 405.0 386.9M343.0 378.0C345.6 377.8 354.7 377.6 358.6 376.9C362.5 376.2 365.1 374.1 366.4 373.6M349.7 388.1 L363.1 390.3" stroke="#2b459a" stroke-width="1.5" fill="none" stroke-linecap="round" stroke-linejoin="round"/>
<path d="M275.0 371.3 L289.5 389.2M278.4 370.2 L294.0 388.1M290.6 366.9 L278.4 384.7M300.7 364.6 L291.7 373.6M306.2 369.1 L307.4 388.1M318.5 365.8 L324.1 385.8M328.5 363.5 L339.7 380.2M296.2 389.2 L312.9 399.2M302.9 392.5 L318.5 393.6M282.8 380.2 L302.9 388.1M374.2 364.6 L365.3 389.2M385.4 358.0 L378.7 373.6M396.5 362.4 L385.4 386.9M383.1 389.2 L376.5 404.8M392.1 393.6 L386.5 404.8M404.3 373.6 L396.5 385.8M405.0 389.2 L395.4 399.2" stroke="#2b459a" stroke-width="1.9" fill="none" stroke-linecap="round" stroke-linejoin="round"/>
<path d="M271.7 373.6 L291.7 391.4" stroke="#2b459a" stroke-width="2.2" fill="none" stroke-linecap="round" stroke-linejoin="round"/>
<path d="M399.0 356.5C400.1 358.9 403.8 366.3 405.6 370.9C407.3 375.5 409.0 379.0 409.5 384.1C410.0 389.1 408.6 398.3 408.5 401.2M405.6 378.8C407.1 379.3 411.9 382.4 414.8 382.0C417.6 381.5 421.3 377.2 422.6 376.2M409.0 388.0C406.9 390.0 400.7 396.3 396.4 399.8C392.1 403.3 385.4 407.5 383.2 409.0" stroke="#2b459a" stroke-width="1.4" fill="none" stroke-linecap="round" stroke-linejoin="round"/>
<path d="M401.6 384.1 L409.0 378.8M406.9 388.0 L412.1 390.9" stroke="#2b459a" stroke-width="2.0" fill="none" stroke-linecap="round" stroke-linejoin="round"/>
<path d="M366.4 372.4C365.1 373.7 360.9 378.0 358.6 380.2C356.4 382.5 353.8 384.0 353.1 385.8C352.3 387.7 352.5 389.9 354.2 391.4C355.8 392.9 360.7 394.2 363.1 394.7C365.5 395.3 367.7 394.7 368.7 394.7M363.1 394.7C362.2 395.5 358.8 397.5 357.5 399.2C356.2 400.9 354.7 403.1 355.3 404.8C355.8 406.4 358.1 408.3 360.9 409.2C363.6 410.2 370.1 410.2 372.0 410.3" stroke="#9c9c9c" stroke-width="1.4" fill="none" stroke-linecap="round" stroke-linejoin="round"/>
<g fill="url(#sm)"><circle cx="320.7" cy="237.6" r="4.2"/><circle cx="317.0" cy="224.6" r="4.0"/><circle cx="324.5" cy="245.6" r="4.1"/><circle cx="315.5" cy="230.5" r="4.1"/><circle cx="320.7" cy="230.9" r="4.1"/></g>
<g fill="url(#sg)"><circle cx="324.4" cy="227.7" r="4.4"/><circle cx="323.0" cy="242.3" r="4.4"/><circle cx="315.4" cy="233.8" r="3.6"/><circle cx="327.0" cy="231.4" r="4.3"/><circle cx="318.5" cy="227.1" r="4.2"/><circle cx="318.3" cy="235.6" r="4.2"/><circle cx="326.2" cy="238.5" r="4.5"/><circle cx="323.1" cy="234.3" r="3.6"/><circle cx="327.0" cy="241.5" r="4.0"/></g>
<g fill="url(#sm)"><circle cx="345.6" cy="239.2" r="3.7"/><circle cx="346.5" cy="244.3" r="4.0"/><circle cx="357.4" cy="217.3" r="4.0"/><circle cx="331.5" cy="223.8" r="4.4"/><circle cx="332.3" cy="235.2" r="4.6"/><circle cx="327.9" cy="234.7" r="4.1"/><circle cx="334.1" cy="232.6" r="3.7"/><circle cx="352.1" cy="219.2" r="4.3"/><circle cx="353.4" cy="230.5" r="4.3"/><circle cx="348.1" cy="208.8" r="4.5"/><circle cx="330.4" cy="231.9" r="3.9"/><circle cx="342.8" cy="244.5" r="4.2"/><circle cx="329.5" cy="228.6" r="4.4"/><circle cx="335.6" cy="217.1" r="4.0"/><circle cx="342.0" cy="211.6" r="4.1"/><circle cx="334.7" cy="223.8" r="4.3"/><circle cx="354.5" cy="221.1" r="3.7"/><circle cx="337.8" cy="244.2" r="4.3"/></g>
<g fill="url(#sg)"><circle cx="347.5" cy="235.7" r="4.1"/><circle cx="355.4" cy="211.4" r="4.4"/><circle cx="352.6" cy="225.0" r="3.6"/><circle cx="353.7" cy="240.3" r="4.4"/><circle cx="345.5" cy="213.1" r="4.3"/><circle cx="341.0" cy="217.0" r="4.3"/><circle cx="335.6" cy="240.2" r="4.4"/><circle cx="338.2" cy="220.8" r="4.0"/><circle cx="337.6" cy="210.8" r="4.0"/><circle cx="345.9" cy="220.6" r="3.8"/><circle cx="345.3" cy="226.5" r="4.2"/><circle cx="353.7" cy="216.2" r="3.5"/><circle cx="348.7" cy="232.0" r="4.0"/><circle cx="348.1" cy="215.8" r="4.6"/><circle cx="350.8" cy="241.9" r="3.9"/><circle cx="341.0" cy="240.2" r="3.7"/><circle cx="340.4" cy="232.3" r="4.0"/><circle cx="352.2" cy="211.0" r="4.3"/><circle cx="343.0" cy="228.5" r="4.4"/><circle cx="331.9" cy="239.8" r="3.6"/><circle cx="340.2" cy="223.3" r="4.1"/><circle cx="333.4" cy="244.5" r="4.4"/><circle cx="351.7" cy="235.7" r="4.4"/><circle cx="338.1" cy="236.5" r="4.3"/><circle cx="333.9" cy="227.8" r="3.8"/><circle cx="350.1" cy="223.0" r="3.6"/><circle cx="340.1" cy="246.9" r="3.9"/></g>
<g fill="url(#sm)"><circle cx="336.8" cy="255.5" r="3.7"/><circle cx="336.3" cy="252.1" r="4.6"/></g>
<g fill="url(#sg)"><circle cx="330.7" cy="245.9" r="4.5"/><circle cx="331.7" cy="249.7" r="4.5"/><circle cx="336.6" cy="248.9" r="4.1"/></g>
<g fill="url(#sm)"><circle cx="325.6" cy="280.1" r="4.1"/><circle cx="311.4" cy="277.9" r="4.0"/><circle cx="315.6" cy="285.1" r="3.7"/><circle cx="305.4" cy="284.0" r="4.4"/><circle cx="324.6" cy="285.2" r="3.6"/><circle cx="329.4" cy="277.2" r="3.8"/><circle cx="305.0" cy="262.5" r="3.8"/><circle cx="330.3" cy="279.9" r="3.7"/><circle cx="311.0" cy="285.3" r="3.7"/><circle cx="313.3" cy="281.0" r="3.6"/><circle cx="322.2" cy="281.3" r="4.1"/><circle cx="325.5" cy="272.1" r="3.7"/><circle cx="311.2" cy="293.5" r="4.2"/><circle cx="328.9" cy="270.3" r="4.2"/><circle cx="304.5" cy="270.2" r="4.2"/><circle cx="307.7" cy="264.3" r="4.0"/><circle cx="301.0" cy="262.4" r="4.2"/><circle cx="312.7" cy="296.0" r="3.8"/></g>
<g fill="url(#sg)"><circle cx="312.4" cy="274.4" r="4.0"/><circle cx="310.4" cy="269.3" r="4.3"/><circle cx="317.8" cy="274.2" r="3.7"/><circle cx="302.3" cy="266.0" r="4.3"/><circle cx="331.7" cy="268.9" r="4.1"/><circle cx="309.4" cy="261.3" r="4.6"/><circle cx="315.8" cy="297.4" r="4.2"/><circle cx="308.7" cy="281.7" r="4.1"/><circle cx="306.6" cy="258.7" r="4.3"/><circle cx="305.4" cy="278.2" r="3.8"/><circle cx="317.8" cy="266.5" r="3.9"/><circle cx="302.2" cy="280.9" r="4.0"/><circle cx="315.7" cy="278.3" r="4.3"/><circle cx="313.6" cy="269.8" r="4.3"/><circle cx="322.5" cy="277.7" r="3.7"/><circle cx="314.0" cy="293.1" r="4.5"/><circle cx="322.2" cy="272.5" r="4.6"/><circle cx="318.5" cy="277.5" r="4.0"/><circle cx="311.4" cy="266.7" r="4.6"/><circle cx="331.1" cy="273.2" r="4.2"/><circle cx="318.6" cy="293.5" r="3.9"/><circle cx="302.1" cy="274.3" r="3.6"/><circle cx="318.0" cy="288.1" r="3.5"/><circle cx="308.4" cy="274.1" r="4.2"/><circle cx="307.2" cy="287.7" r="4.3"/><circle cx="312.5" cy="288.6" r="4.2"/><circle cx="323.9" cy="269.8" r="4.4"/></g>
<g fill="url(#sm)"><circle cx="305.7" cy="291.0" r="4.2"/><circle cx="302.6" cy="293.9" r="4.2"/><circle cx="303.7" cy="302.8" r="3.9"/><circle cx="308.8" cy="298.3" r="4.6"/></g>
<g fill="url(#sg)"><circle cx="312.2" cy="301.9" r="3.9"/><circle cx="314.5" cy="306.4" r="4.0"/><circle cx="301.8" cy="298.5" r="3.7"/><circle cx="310.0" cy="305.8" r="4.5"/><circle cx="314.0" cy="299.7" r="4.0"/><circle cx="316.6" cy="303.5" r="3.8"/><circle cx="319.7" cy="303.0" r="3.7"/><circle cx="305.6" cy="298.6" r="3.7"/></g>
<g fill="url(#sm)"><circle cx="287.1" cy="319.3" r="4.1"/><circle cx="297.1" cy="319.5" r="3.7"/></g>
<g fill="url(#sg)"><circle cx="294.7" cy="314.9" r="3.6"/><circle cx="290.5" cy="315.9" r="4.2"/><circle cx="288.6" cy="312.5" r="3.6"/><circle cx="284.8" cy="315.6" r="3.5"/><circle cx="283.9" cy="312.8" r="3.6"/></g>
<g fill="url(#sd)"><circle cx="295.2" cy="315.2" r="4.3"/><circle cx="291.3" cy="319.7" r="3.7"/></g>
<g fill="url(#sm)"><circle cx="323.8" cy="316.1" r="3.6"/><circle cx="331.1" cy="321.7" r="3.7"/><circle cx="346.1" cy="309.9" r="3.6"/><circle cx="337.6" cy="285.6" r="4.2"/><circle cx="327.8" cy="286.5" r="3.9"/><circle cx="314.8" cy="309.6" r="4.5"/><circle cx="339.4" cy="273.8" r="4.4"/><circle cx="344.6" cy="327.7" r="4.1"/><circle cx="328.0" cy="300.4" r="3.9"/><circle cx="333.2" cy="324.4" r="3.9"/><circle cx="336.2" cy="309.2" r="3.6"/><circle cx="335.7" cy="302.1" r="3.6"/><circle cx="349.3" cy="284.8" r="4.5"/><circle cx="349.8" cy="300.8" r="3.8"/><circle cx="340.8" cy="332.1" r="3.5"/><circle cx="334.9" cy="312.5" r="4.6"/><circle cx="343.4" cy="289.6" r="3.9"/><circle cx="346.5" cy="333.3" r="4.4"/><circle cx="317.9" cy="300.4" r="4.0"/><circle cx="345.6" cy="278.4" r="4.6"/><circle cx="349.1" cy="290.4" r="3.6"/><circle cx="356.1" cy="288.8" r="4.0"/><circle cx="353.4" cy="290.0" r="4.2"/><circle cx="351.2" cy="280.9" r="3.5"/><circle cx="337.7" cy="282.5" r="4.5"/><circle cx="339.4" cy="329.1" r="3.9"/><circle cx="319.7" cy="290.6" r="4.2"/><circle cx="325.9" cy="303.7" r="3.6"/><circle cx="336.3" cy="333.0" r="3.6"/><circle cx="341.7" cy="324.1" r="3.6"/><circle cx="325.1" cy="297.7" r="4.4"/><circle cx="328.7" cy="306.0" r="4.5"/><circle cx="341.0" cy="276.3" r="4.5"/><circle cx="351.4" cy="292.8" r="4.1"/><circle cx="332.9" cy="300.3" r="3.6"/><circle cx="350.0" cy="308.9" r="4.4"/><circle cx="339.9" cy="294.2" r="4.1"/><circle cx="351.9" cy="304.4" r="4.4"/><circle cx="353.7" cy="297.7" r="4.2"/><circle cx="337.8" cy="325.3" r="4.1"/><circle cx="316.3" cy="319.7" r="3.7"/><circle cx="334.7" cy="297.0" r="3.7"/><circle cx="313.8" cy="316.1" r="3.6"/><circle cx="356.7" cy="314.0" r="4.0"/><circle cx="350.3" cy="317.4" r="3.8"/></g>
<g fill="url(#sg)"><circle cx="355.6" cy="305.5" r="4.5"/><circle cx="317.9" cy="316.1" r="3.6"/><circle cx="358.9" cy="308.8" r="4.3"/><circle cx="353.7" cy="323.6" r="3.6"/><circle cx="326.0" cy="320.8" r="3.6"/><circle cx="344.0" cy="320.1" r="4.5"/><circle cx="339.4" cy="297.9" r="3.7"/><circle cx="330.8" cy="285.5" r="4.2"/><circle cx="335.1" cy="320.0" r="4.1"/><circle cx="336.6" cy="293.9" r="3.9"/><circle cx="324.2" cy="289.8" r="3.9"/><circle cx="333.8" cy="273.8" r="3.7"/><circle cx="332.3" cy="294.4" r="4.3"/><circle cx="321.7" cy="321.0" r="3.9"/><circle cx="331.9" cy="309.3" r="4.2"/><circle cx="336.7" cy="277.5" r="4.4"/><circle cx="357.8" cy="301.2" r="3.6"/><circle cx="345.6" cy="300.4" r="4.0"/><circle cx="342.4" cy="315.3" r="3.9"/><circle cx="334.0" cy="280.7" r="4.5"/><circle cx="342.4" cy="296.7" r="4.2"/><circle cx="325.8" cy="329.4" r="3.7"/><circle cx="319.6" cy="297.2" r="4.0"/><circle cx="322.4" cy="300.0" r="3.5"/><circle cx="359.1" cy="292.2" r="4.1"/><circle cx="323.3" cy="293.1" r="3.6"/><circle cx="332.6" cy="316.3" r="3.7"/><circle cx="333.4" cy="290.5" r="4.1"/><circle cx="327.3" cy="292.0" r="4.1"/><circle cx="341.8" cy="309.9" r="3.7"/><circle cx="315.7" cy="313.2" r="4.1"/><circle cx="338.9" cy="320.5" r="3.8"/><circle cx="351.3" cy="313.8" r="4.3"/><circle cx="329.0" cy="296.8" r="3.6"/><circle cx="343.4" cy="273.3" r="4.4"/><circle cx="357.4" cy="296.3" r="4.0"/><circle cx="319.2" cy="309.7" r="3.7"/><circle cx="346.4" cy="317.6" r="3.8"/><circle cx="353.9" cy="294.2" r="4.2"/><circle cx="353.9" cy="286.2" r="3.6"/><circle cx="333.8" cy="305.4" r="4.5"/><circle cx="339.8" cy="312.0" r="3.7"/><circle cx="347.4" cy="297.6" r="4.0"/><circle cx="327.5" cy="316.2" r="3.6"/><circle cx="338.4" cy="289.7" r="4.0"/><circle cx="319.4" cy="325.1" r="4.6"/><circle cx="353.7" cy="300.9" r="3.7"/><circle cx="346.8" cy="324.3" r="3.7"/><circle cx="337.2" cy="270.3" r="4.1"/><circle cx="347.9" cy="305.8" r="4.2"/><circle cx="323.4" cy="309.1" r="3.7"/><circle cx="337.9" cy="305.1" r="3.7"/><circle cx="328.7" cy="323.9" r="4.2"/><circle cx="334.4" cy="329.5" r="3.8"/><circle cx="337.3" cy="316.0" r="3.5"/><circle cx="352.8" cy="319.6" r="4.3"/><circle cx="348.5" cy="320.3" r="4.5"/><circle cx="329.9" cy="313.7" r="4.4"/><circle cx="351.1" cy="327.4" r="4.4"/><circle cx="328.9" cy="327.2" r="3.7"/><circle cx="326.6" cy="313.1" r="3.8"/><circle cx="340.8" cy="285.9" r="4.2"/><circle cx="345.2" cy="293.2" r="4.2"/><circle cx="347.9" cy="281.7" r="4.2"/><circle cx="332.8" cy="333.1" r="4.1"/><circle cx="344.0" cy="304.2" r="3.8"/><circle cx="344.4" cy="282.6" r="3.8"/><circle cx="330.6" cy="289.7" r="3.6"/></g>
<g fill="url(#sm)"><circle cx="330.1" cy="356.4" r="3.7"/><circle cx="364.8" cy="358.5" r="3.7"/><circle cx="325.6" cy="348.0" r="4.2"/><circle cx="345.5" cy="358.8" r="4.2"/><circle cx="330.4" cy="341.4" r="3.7"/><circle cx="354.3" cy="343.1" r="4.5"/><circle cx="342.1" cy="336.6" r="3.7"/><circle cx="367.0" cy="364.5" r="4.4"/><circle cx="341.4" cy="350.9" r="4.5"/><circle cx="325.5" cy="333.7" r="3.6"/><circle cx="313.1" cy="327.7" r="4.3"/><circle cx="337.0" cy="336.0" r="4.1"/><circle cx="318.0" cy="329.4" r="4.5"/><circle cx="328.9" cy="336.7" r="4.0"/><circle cx="357.3" cy="364.6" r="4.0"/><circle cx="318.3" cy="335.4" r="3.8"/><circle cx="351.3" cy="331.3" r="4.4"/><circle cx="338.2" cy="340.9" r="3.9"/><circle cx="344.0" cy="355.4" r="4.5"/><circle cx="324.1" cy="351.9" r="3.5"/><circle cx="301.7" cy="328.3" r="4.5"/><circle cx="365.0" cy="367.2" r="3.5"/><circle cx="334.0" cy="339.8" r="4.3"/><circle cx="310.5" cy="329.9" r="4.5"/><circle cx="315.3" cy="332.9" r="3.9"/><circle cx="319.9" cy="339.6" r="4.2"/><circle cx="359.2" cy="359.5" r="4.0"/><circle cx="326.7" cy="343.3" r="3.6"/></g>
<g fill="url(#sg)"><circle cx="349.0" cy="360.2" r="4.4"/><circle cx="313.1" cy="324.9" r="4.0"/><circle cx="342.2" cy="342.8" r="4.4"/><circle cx="350.0" cy="342.8" r="3.5"/><circle cx="359.9" cy="350.8" r="3.7"/><circle cx="306.1" cy="329.0" r="3.8"/><circle cx="333.7" cy="354.5" r="4.4"/><circle cx="355.0" cy="367.9" r="3.5"/><circle cx="353.1" cy="348.4" r="3.5"/><circle cx="347.1" cy="340.0" r="3.9"/><circle cx="335.3" cy="347.3" r="3.9"/><circle cx="331.7" cy="344.1" r="4.4"/><circle cx="346.0" cy="337.4" r="4.4"/><circle cx="351.4" cy="356.4" r="3.8"/><circle cx="322.1" cy="336.7" r="4.3"/><circle cx="362.2" cy="363.8" r="3.9"/><circle cx="340.0" cy="356.6" r="4.3"/><circle cx="350.9" cy="351.7" r="4.2"/><circle cx="323.7" cy="345.2" r="3.6"/><circle cx="320.2" cy="346.8" r="4.0"/><circle cx="347.8" cy="356.6" r="4.0"/><circle cx="353.4" cy="340.0" r="4.0"/><circle cx="362.7" cy="356.2" r="4.1"/><circle cx="332.9" cy="351.4" r="4.3"/><circle cx="349.2" cy="348.8" r="3.9"/><circle cx="367.5" cy="360.5" r="4.1"/><circle cx="330.9" cy="349.4" r="4.4"/><circle cx="356.0" cy="351.2" r="4.2"/><circle cx="355.0" cy="359.7" r="3.7"/><circle cx="308.1" cy="325.1" r="3.7"/><circle cx="351.4" cy="362.4" r="3.8"/><circle cx="325.3" cy="340.3" r="4.5"/><circle cx="342.4" cy="360.1" r="3.9"/><circle cx="317.7" cy="348.4" r="4.5"/><circle cx="345.4" cy="352.1" r="4.6"/><circle cx="321.8" cy="331.4" r="4.3"/><circle cx="340.3" cy="348.3" r="3.9"/><circle cx="326.7" cy="354.6" r="4.3"/><circle cx="357.5" cy="355.7" r="4.1"/><circle cx="351.4" cy="335.3" r="4.5"/><circle cx="303.6" cy="325.1" r="4.1"/><circle cx="337.6" cy="345.0" r="4.2"/><circle cx="298.7" cy="325.7" r="4.3"/><circle cx="343.1" cy="339.4" r="4.2"/></g>
<g fill="url(#sd)"><circle cx="326.8" cy="353.8" r="4.0"/><circle cx="322.5" cy="353.7" r="4.3"/></g>
<g fill="url(#sc)"><circle cx="344.7" cy="282.2" r="4.0"/></g>
<g fill="url(#sb)"><circle cx="340.5" cy="281.4" r="4.1"/><circle cx="348.2" cy="276.5" r="3.6"/><circle cx="343.1" cy="276.3" r="4.5"/></g>
<g fill="url(#sc)"><circle cx="363.3" cy="295.6" r="4.6"/></g>
<g fill="url(#sb)"><circle cx="364.4" cy="292.4" r="4.4"/><circle cx="369.7" cy="296.3" r="4.1"/><circle cx="366.3" cy="296.6" r="4.2"/></g>
<g fill="url(#sc)"><circle cx="339.1" cy="286.0" r="3.6"/><circle cx="341.9" cy="290.2" r="3.6"/><circle cx="336.7" cy="291.4" r="4.0"/></g>
<g fill="url(#sb)"><circle cx="339.0" cy="293.2" r="4.2"/><circle cx="345.1" cy="290.8" r="3.8"/><circle cx="337.4" cy="298.4" r="4.6"/><circle cx="330.1" cy="301.1" r="3.8"/><circle cx="334.8" cy="303.1" r="4.0"/></g>
<g fill="url(#sc)"><circle cx="326.1" cy="312.2" r="4.2"/><circle cx="325.4" cy="305.5" r="3.6"/><circle cx="318.6" cy="308.8" r="4.0"/><circle cx="318.7" cy="311.8" r="3.6"/><circle cx="315.1" cy="316.0" r="4.1"/></g>
<g fill="url(#sb)"><circle cx="328.2" cy="309.5" r="4.3"/><circle cx="324.4" cy="316.3" r="4.4"/><circle cx="314.5" cy="309.4" r="4.5"/><circle cx="330.6" cy="311.6" r="3.6"/><circle cx="318.8" cy="316.1" r="4.0"/><circle cx="323.0" cy="308.3" r="4.2"/><circle cx="333.0" cy="309.2" r="3.9"/><circle cx="330.8" cy="304.6" r="4.5"/></g>
<g fill="url(#sb)"><circle cx="341.0" cy="320.1" r="3.9"/><circle cx="337.9" cy="320.1" r="4.0"/></g>
<g fill="url(#sc)"><circle cx="362.1" cy="345.3" r="3.6"/><circle cx="360.0" cy="348.5" r="3.9"/></g>
<g fill="url(#sb)"><circle cx="354.2" cy="341.4" r="4.5"/><circle cx="356.9" cy="343.6" r="3.6"/><circle cx="363.8" cy="340.6" r="4.2"/><circle cx="359.0" cy="341.4" r="3.9"/><circle cx="353.7" cy="345.7" r="3.6"/></g>
<g fill="url(#so)"><circle cx="336.8" cy="261.0" r="4.0"/><circle cx="337.0" cy="277.4" r="4.5"/><circle cx="345.4" cy="275.4" r="4.1"/><circle cx="344.4" cy="279.0" r="4.1"/></g>
<g fill="url(#sn)"><circle cx="335.5" cy="268.9" r="3.9"/><circle cx="340.4" cy="277.5" r="4.0"/><circle cx="339.6" cy="269.6" r="3.8"/><circle cx="338.0" cy="273.2" r="4.0"/><circle cx="339.6" cy="265.1" r="3.8"/><circle cx="335.2" cy="271.8" r="3.6"/><circle cx="342.5" cy="273.3" r="3.9"/></g>
<g fill="url(#so)"><circle cx="349.6" cy="279.7" r="3.5"/><circle cx="352.0" cy="288.5" r="4.1"/><circle cx="360.1" cy="288.8" r="3.7"/><circle cx="365.1" cy="289.0" r="4.4"/></g>
<g fill="url(#sn)"><circle cx="356.9" cy="285.0" r="4.1"/><circle cx="355.1" cy="290.0" r="3.5"/><circle cx="353.5" cy="285.7" r="3.9"/><circle cx="363.0" cy="293.2" r="3.5"/><circle cx="359.2" cy="281.3" r="4.5"/><circle cx="362.3" cy="285.8" r="4.5"/><circle cx="356.4" cy="281.4" r="4.3"/></g>
<g fill="url(#so)"><circle cx="330.9" cy="287.3" r="3.9"/><circle cx="329.3" cy="295.6" r="3.6"/><circle cx="327.1" cy="292.3" r="3.5"/></g>
<g fill="url(#sn)"><circle cx="336.6" cy="291.2" r="3.7"/><circle cx="332.8" cy="290.5" r="3.5"/><circle cx="326.5" cy="299.6" r="4.0"/><circle cx="324.2" cy="296.4" r="3.9"/><circle cx="331.9" cy="299.1" r="4.5"/><circle cx="333.0" cy="296.5" r="3.5"/></g>
<g fill="url(#so)"><circle cx="340.8" cy="301.8" r="3.7"/><circle cx="345.0" cy="302.0" r="3.7"/><circle cx="355.2" cy="299.1" r="4.5"/><circle cx="349.0" cy="293.7" r="4.4"/><circle cx="359.0" cy="300.8" r="4.5"/><circle cx="353.9" cy="308.8" r="4.5"/></g>
<g fill="url(#sn)"><circle cx="343.3" cy="297.3" r="4.2"/><circle cx="351.9" cy="293.1" r="4.6"/><circle cx="347.2" cy="297.6" r="4.1"/><circle cx="359.7" cy="306.5" r="3.6"/><circle cx="355.9" cy="306.8" r="4.2"/><circle cx="347.0" cy="305.7" r="4.3"/><circle cx="351.0" cy="297.4" r="3.8"/><circle cx="348.3" cy="302.5" r="3.8"/><circle cx="351.6" cy="304.6" r="3.5"/><circle cx="353.6" cy="301.6" r="4.0"/><circle cx="343.8" cy="293.4" r="4.4"/></g>
<g fill="url(#so)"><circle cx="311.3" cy="310.7" r="4.2"/><circle cx="310.6" cy="306.5" r="4.3"/></g>
<g fill="url(#sn)"><circle cx="307.8" cy="309.7" r="4.5"/><circle cx="303.3" cy="311.5" r="4.1"/><circle cx="301.7" cy="307.7" r="3.7"/><circle cx="308.2" cy="303.8" r="4.1"/><circle cx="305.8" cy="306.1" r="4.4"/></g>
<g fill="url(#so)"><circle cx="360.0" cy="333.4" r="3.5"/><circle cx="361.9" cy="321.9" r="3.5"/><circle cx="359.5" cy="314.1" r="3.8"/><circle cx="375.5" cy="322.2" r="4.5"/><circle cx="362.8" cy="328.4" r="4.4"/><circle cx="355.6" cy="317.6" r="4.2"/><circle cx="365.7" cy="333.7" r="4.5"/><circle cx="354.6" cy="314.3" r="3.9"/><circle cx="372.5" cy="321.0" r="4.2"/></g>
<g fill="url(#sn)"><circle cx="365.6" cy="326.1" r="4.6"/><circle cx="359.0" cy="336.7" r="4.5"/><circle cx="355.5" cy="324.1" r="4.3"/><circle cx="373.5" cy="328.0" r="3.9"/><circle cx="355.2" cy="336.2" r="3.8"/><circle cx="353.9" cy="328.9" r="4.5"/><circle cx="358.2" cy="320.5" r="4.4"/><circle cx="371.1" cy="324.0" r="3.9"/><circle cx="362.0" cy="318.5" r="3.9"/><circle cx="379.5" cy="325.1" r="3.9"/><circle cx="363.6" cy="337.4" r="3.7"/><circle cx="357.7" cy="330.6" r="3.9"/><circle cx="367.3" cy="321.2" r="3.6"/><circle cx="366.2" cy="318.4" r="4.6"/></g>
<g fill="url(#so)"><circle cx="334.4" cy="318.5" r="4.0"/><circle cx="335.2" cy="328.4" r="4.1"/><circle cx="333.1" cy="326.1" r="3.5"/><circle cx="330.8" cy="331.6" r="4.5"/></g>
<g fill="url(#sn)"><circle cx="337.2" cy="319.9" r="4.4"/><circle cx="328.6" cy="329.7" r="4.0"/><circle cx="339.0" cy="324.4" r="4.5"/><circle cx="334.7" cy="333.2" r="4.3"/><circle cx="330.3" cy="324.1" r="4.2"/><circle cx="341.0" cy="329.5" r="3.5"/></g>
<g fill="url(#sg)"><circle cx="347.3" cy="330.5" r="4.3"/></g>
<path d="M331.0 258.4C330.8 258.8 328.2 259.9 330.1 260.6C331.9 261.4 339.9 262.3 342.1 263.1C344.3 263.9 345.0 264.5 343.4 265.3C341.9 266.1 334.6 267.0 332.7 267.8C330.8 268.5 330.0 269.2 331.8 270.0C333.7 270.8 341.6 271.7 343.8 272.4C346.0 273.2 346.7 273.9 345.2 274.7C343.6 275.5 336.4 276.3 334.4 277.1C332.5 277.9 331.7 278.6 333.5 279.4C335.4 280.1 343.3 281.0 345.5 281.8C347.8 282.6 348.4 283.3 346.9 284.0C345.3 284.8 338.1 285.7 336.1 286.5C334.2 287.3 333.4 287.9 335.2 288.7C337.1 289.5 345.0 290.4 347.2 291.2C349.5 292.0 350.2 292.6 348.6 293.4C347.0 294.2 339.8 295.1 337.9 295.9C335.9 296.6 335.1 297.3 337.0 298.1C338.8 298.9 346.7 299.8 349.0 300.5C351.2 301.3 351.9 302.0 350.3 302.8C348.7 303.5 341.5 304.4 339.6 305.2C337.6 306.0 336.8 306.7 338.7 307.4C340.5 308.2 348.5 309.1 350.7 309.9C352.9 310.7 353.6 311.3 352.0 312.1C350.5 312.9 343.2 313.8 341.3 314.6C339.3 315.4 338.5 316.0 340.4 316.8C342.2 317.6 350.2 318.5 352.4 319.3C354.6 320.0 355.3 320.7 353.7 321.5C352.2 322.3 344.9 323.2 343.0 323.9C341.1 324.7 340.3 325.4 342.1 326.2C344.0 327.0 351.9 327.8 354.1 328.6C356.3 329.4 357.0 330.1 355.5 330.9C353.9 331.6 346.7 332.5 344.7 333.3C342.8 334.1 344.0 335.2 343.8 335.5" stroke="#8d8d8d" stroke-width="1.0" fill="none" stroke-linecap="round" stroke-linejoin="round"/>
<path d="M295.1 334.6 L301.8 335.7 L305.1 337.9 L298.4 339.0M298.4 336.8 L307.4 355.7 L312.9 359.1M301.8 336.8 L301.8 356.8M305.1 339.0 L300.7 355.7" stroke="#dd8a86" stroke-width="1.6" fill="none" stroke-linecap="round" stroke-linejoin="round"/>
<path d="M530.1 259.1C529.0 259.4 525.6 260.1 523.4 260.9C521.2 261.6 518.2 262.2 516.7 263.6C515.2 264.9 513.9 267.5 514.5 269.1C515.0 270.8 517.8 272.6 520.1 273.6C522.3 274.6 528.2 274.4 527.9 275.2C527.5 275.9 520.6 276.8 517.8 278.1C515.0 279.3 512.6 280.8 511.1 282.5C509.7 284.2 508.2 286.2 508.9 288.1C509.7 289.9 513.4 292.5 515.6 293.7C517.8 294.8 523.0 294.6 522.3 295.2C521.5 295.8 514.1 296.6 511.1 297.4C508.2 298.3 505.9 298.9 504.5 300.3C503.0 301.8 501.5 303.9 502.2 305.9C503.0 308.0 506.7 311.0 508.9 312.6C511.1 314.2 516.0 314.5 515.6 315.3C515.2 316.0 509.3 316.4 506.7 317.1C504.1 317.7 501.1 318.9 500.0 319.3" stroke="#9c9c9c" stroke-width="1.4" fill="none" stroke-linecap="round" stroke-linejoin="round"/>
<path d="M508.3 300.0C509.6 301.6 516.3 307.4 516.6 309.7C516.8 312.0 512.2 312.3 509.6 313.9C507.1 315.5 502.2 317.3 501.3 319.4C500.4 321.5 502.2 324.7 504.1 326.4C505.9 328.0 511.0 328.7 512.4 329.1" stroke="#9c9c9c" stroke-width="1.4" fill="none" stroke-linecap="round" stroke-linejoin="round"/>
<path d="M494.4 345.8C493.9 346.7 491.1 348.7 491.6 351.3C492.2 354.0 497.7 359.0 497.7 361.6C497.7 364.1 494.4 365.7 491.6 366.6C488.8 367.4 483.1 365.6 481.1 366.6C479.0 367.6 478.1 370.3 479.1 372.7C480.2 375.1 485.4 379.1 487.4 381.0C489.5 382.8 493.2 382.9 491.6 383.8C490.0 384.6 481.8 384.9 477.7 386.0C473.7 387.1 469.4 388.3 467.2 390.2C465.0 392.0 464.0 394.3 464.4 397.1C464.9 399.9 470.5 404.7 470.0 406.8C469.4 408.9 464.0 409.3 461.1 409.6C458.2 409.8 454.2 408.4 452.8 408.2" stroke="#9c9c9c" stroke-width="1.4" fill="none" stroke-linecap="round" stroke-linejoin="round"/>
<path d="M497.2 365.2C497.4 368.2 497.2 377.4 498.5 383.2C499.9 389.0 502.9 395.2 505.5 399.9C508.0 404.5 510.3 407.7 513.8 411.0C517.3 414.2 521.7 417.4 526.3 419.3C530.9 421.1 536.5 422.5 541.5 422.1C546.6 421.6 552.4 419.0 556.8 416.5C561.2 414.0 565.6 410.3 567.9 406.8C570.2 403.3 571.1 398.5 570.7 395.7C570.2 392.9 567.0 391.3 565.1 390.2C563.3 389.0 560.5 389.0 559.6 388.8M498.5 365.2C500.2 364.7 504.3 363.6 508.3 362.4C512.2 361.3 518.0 359.4 522.1 358.3C526.3 357.1 529.5 355.5 533.2 355.5C536.9 355.5 541.1 356.6 544.3 358.3C547.5 359.9 549.9 364.5 552.6 365.2C555.4 365.9 557.7 362.6 561.0 362.4C564.2 362.2 566.7 362.9 572.1 363.8C577.4 364.7 589.4 367.3 592.9 368.0M561.0 362.4C562.8 364.5 568.8 371.4 572.1 374.9C575.3 378.4 576.7 380.9 580.4 383.2C584.1 385.5 590.1 388.3 594.2 388.8C598.4 389.2 600.7 385.8 605.3 386.0C610.0 386.2 619.2 389.5 622.0 390.2M599.8 379.1C601.6 380.7 607.7 385.8 610.9 388.8C614.1 391.8 617.8 394.5 619.2 397.1C620.6 399.6 619.2 402.9 619.2 404.0M566.5 380.4C568.4 382.3 573.7 389.0 577.6 391.5C581.5 394.1 587.8 394.1 590.1 395.7C592.4 397.3 591.2 400.3 591.5 401.2M572.1 366.6C575.3 367.5 585.9 369.3 591.5 372.1C597.0 374.9 603.0 381.4 605.3 383.2" stroke="#2b459a" stroke-width="1.5" fill="none" stroke-linecap="round" stroke-linejoin="round"/>
<path d="M498.5 365.2 L522.1 391.5M501.3 366.6 L504.1 386.0M505.5 363.8 L509.6 383.2M495.8 387.4 L524.9 365.2M512.4 377.7 L530.4 381.8M501.3 404.0 L503.3 411.0M508.3 383.2 L516.6 391.5M516.6 372.1 L526.3 386.0M524.9 363.8 L519.3 380.4M605.3 397.1 L597.0 408.2M529.1 394.3 L524.9 415.1M533.2 401.2 L541.5 419.3M534.6 401.2 L556.8 413.7M541.5 404.0 L567.9 401.2" stroke="#2b459a" stroke-width="1.7" fill="none" stroke-linecap="round" stroke-linejoin="round"/>
<path d="M509.6 388.8 L524.9 399.9M499.9 404.0 L513.8 401.2M515.2 401.2 L524.9 399.9M616.4 389.3 L623.4 390.2" stroke="#2b459a" stroke-width="2.2" fill="none" stroke-linecap="round" stroke-linejoin="round"/>
<g fill="url(#sm)"><circle cx="592.6" cy="198.2" r="4.5"/><circle cx="576.6" cy="202.6" r="4.1"/><circle cx="592.1" cy="220.3" r="4.1"/><circle cx="578.0" cy="233.9" r="3.7"/><circle cx="580.7" cy="225.8" r="3.7"/><circle cx="583.6" cy="197.3" r="3.8"/><circle cx="571.7" cy="201.4" r="3.8"/><circle cx="582.8" cy="210.5" r="4.0"/><circle cx="585.7" cy="223.4" r="4.5"/><circle cx="592.4" cy="212.1" r="3.8"/><circle cx="586.5" cy="201.1" r="3.8"/><circle cx="572.2" cy="225.7" r="4.3"/><circle cx="580.3" cy="212.9" r="4.5"/><circle cx="570.3" cy="236.2" r="3.8"/><circle cx="589.5" cy="239.2" r="3.8"/><circle cx="570.6" cy="219.6" r="4.0"/><circle cx="596.2" cy="225.0" r="3.6"/><circle cx="588.4" cy="227.7" r="3.6"/><circle cx="584.4" cy="229.6" r="4.1"/><circle cx="595.0" cy="216.3" r="3.8"/><circle cx="581.3" cy="217.8" r="3.8"/><circle cx="574.0" cy="220.4" r="4.4"/><circle cx="568.0" cy="216.7" r="4.0"/><circle cx="599.5" cy="226.0" r="4.1"/><circle cx="569.7" cy="206.1" r="4.2"/><circle cx="578.6" cy="196.5" r="4.3"/><circle cx="573.5" cy="208.7" r="4.5"/><circle cx="588.3" cy="213.8" r="4.6"/></g>
<g fill="url(#sg)"><circle cx="577.9" cy="240.4" r="3.6"/><circle cx="573.6" cy="217.6" r="4.3"/><circle cx="589.9" cy="201.2" r="3.5"/><circle cx="596.4" cy="210.5" r="3.6"/><circle cx="597.2" cy="204.3" r="3.8"/><circle cx="566.9" cy="220.1" r="3.6"/><circle cx="579.4" cy="205.7" r="3.7"/><circle cx="595.1" cy="232.9" r="3.8"/><circle cx="579.9" cy="222.2" r="4.4"/><circle cx="590.5" cy="233.6" r="4.4"/><circle cx="575.2" cy="205.5" r="4.1"/><circle cx="588.1" cy="197.4" r="4.1"/><circle cx="587.1" cy="235.7" r="4.3"/><circle cx="601.6" cy="229.2" r="4.1"/><circle cx="586.5" cy="217.3" r="3.6"/><circle cx="584.3" cy="205.7" r="4.0"/><circle cx="579.7" cy="236.9" r="3.7"/><circle cx="574.7" cy="213.5" r="4.0"/><circle cx="577.8" cy="224.5" r="4.6"/><circle cx="575.6" cy="236.3" r="3.7"/><circle cx="603.6" cy="233.2" r="3.9"/><circle cx="573.7" cy="198.7" r="4.1"/><circle cx="567.6" cy="231.5" r="4.2"/><circle cx="599.3" cy="233.1" r="3.8"/><circle cx="589.8" cy="217.9" r="3.9"/><circle cx="597.1" cy="221.8" r="4.0"/><circle cx="583.1" cy="221.7" r="4.5"/><circle cx="571.1" cy="229.7" r="3.6"/><circle cx="585.2" cy="233.6" r="4.5"/><circle cx="580.8" cy="201.7" r="4.1"/><circle cx="566.7" cy="225.6" r="4.5"/><circle cx="589.6" cy="205.8" r="3.9"/><circle cx="598.3" cy="236.5" r="4.2"/><circle cx="578.0" cy="216.1" r="3.5"/><circle cx="569.0" cy="212.6" r="3.7"/><circle cx="595.6" cy="200.8" r="4.2"/><circle cx="575.4" cy="228.8" r="3.9"/><circle cx="589.4" cy="210.0" r="4.1"/><circle cx="593.4" cy="227.5" r="4.6"/><circle cx="584.9" cy="208.5" r="4.1"/><circle cx="590.5" cy="225.7" r="4.2"/><circle cx="592.3" cy="206.6" r="4.1"/></g>
<g fill="url(#sm)"><circle cx="570.4" cy="253.7" r="4.3"/><circle cx="566.9" cy="257.7" r="3.7"/><circle cx="577.6" cy="251.0" r="3.8"/><circle cx="574.8" cy="254.4" r="3.7"/><circle cx="578.6" cy="262.9" r="4.4"/><circle cx="582.8" cy="250.3" r="4.5"/><circle cx="584.4" cy="253.1" r="4.1"/><circle cx="583.2" cy="238.4" r="4.2"/></g>
<g fill="url(#sg)"><circle cx="569.7" cy="262.2" r="4.6"/><circle cx="564.8" cy="260.7" r="4.1"/><circle cx="576.1" cy="260.9" r="4.0"/><circle cx="573.6" cy="264.2" r="3.8"/><circle cx="582.1" cy="243.4" r="4.6"/><circle cx="584.0" cy="262.4" r="3.6"/><circle cx="580.2" cy="254.7" r="3.7"/><circle cx="571.4" cy="257.7" r="4.4"/><circle cx="578.3" cy="265.9" r="3.5"/><circle cx="579.4" cy="246.8" r="3.7"/><circle cx="577.7" cy="257.6" r="4.1"/><circle cx="582.6" cy="257.3" r="3.8"/></g>
<g fill="url(#sm)"><circle cx="588.1" cy="277.8" r="4.6"/><circle cx="595.1" cy="282.3" r="4.4"/><circle cx="598.2" cy="286.8" r="4.4"/><circle cx="588.2" cy="286.9" r="4.3"/><circle cx="599.6" cy="280.6" r="4.0"/><circle cx="586.2" cy="282.0" r="3.6"/></g>
<g fill="url(#sg)"><circle cx="592.4" cy="285.6" r="4.6"/><circle cx="589.6" cy="274.1" r="3.9"/><circle cx="592.1" cy="277.0" r="4.4"/><circle cx="584.7" cy="276.7" r="4.4"/><circle cx="593.6" cy="274.2" r="4.5"/><circle cx="582.5" cy="289.5" r="3.6"/><circle cx="591.0" cy="282.9" r="4.0"/><circle cx="582.0" cy="281.5" r="4.0"/><circle cx="578.4" cy="292.7" r="3.8"/><circle cx="597.2" cy="276.6" r="3.6"/><circle cx="580.1" cy="285.7" r="4.5"/></g>
<g fill="url(#sm)"><circle cx="611.4" cy="299.1" r="3.7"/><circle cx="619.1" cy="300.5" r="4.0"/><circle cx="614.2" cy="300.4" r="3.8"/><circle cx="606.4" cy="308.0" r="4.1"/><circle cx="626.3" cy="288.3" r="3.8"/><circle cx="610.5" cy="307.6" r="4.1"/><circle cx="589.3" cy="303.2" r="3.8"/><circle cx="617.9" cy="297.1" r="3.5"/><circle cx="605.2" cy="299.6" r="3.6"/><circle cx="595.5" cy="304.8" r="4.4"/><circle cx="608.8" cy="304.6" r="4.0"/><circle cx="619.5" cy="291.1" r="4.1"/></g>
<g fill="url(#sg)"><circle cx="623.1" cy="292.6" r="4.2"/><circle cx="602.0" cy="308.2" r="3.8"/><circle cx="605.8" cy="292.8" r="3.7"/><circle cx="624.1" cy="300.1" r="3.9"/><circle cx="625.5" cy="294.8" r="4.3"/><circle cx="599.0" cy="304.5" r="4.3"/><circle cx="620.8" cy="294.6" r="4.0"/><circle cx="629.8" cy="292.5" r="4.2"/><circle cx="603.2" cy="303.3" r="3.8"/><circle cx="604.8" cy="296.5" r="4.5"/><circle cx="610.0" cy="291.9" r="4.2"/><circle cx="617.0" cy="304.8" r="4.4"/><circle cx="593.2" cy="300.5" r="3.9"/><circle cx="592.7" cy="307.7" r="4.1"/><circle cx="608.3" cy="296.2" r="4.3"/><circle cx="616.2" cy="291.1" r="4.1"/><circle cx="601.5" cy="300.9" r="4.3"/><circle cx="613.9" cy="296.7" r="3.8"/><circle cx="612.0" cy="303.5" r="4.4"/></g>
<g fill="url(#sm)"><circle cx="562.3" cy="310.1" r="4.5"/><circle cx="561.1" cy="294.8" r="4.6"/><circle cx="571.9" cy="327.6" r="4.5"/><circle cx="577.4" cy="296.4" r="3.8"/><circle cx="567.1" cy="324.2" r="4.0"/><circle cx="568.1" cy="299.0" r="4.1"/><circle cx="570.7" cy="324.4" r="4.0"/><circle cx="564.5" cy="327.7" r="3.6"/><circle cx="561.8" cy="301.0" r="3.9"/></g>
<g fill="url(#sg)"><circle cx="577.3" cy="321.7" r="4.5"/><circle cx="568.4" cy="314.3" r="3.9"/><circle cx="566.9" cy="302.0" r="4.5"/><circle cx="559.1" cy="321.3" r="4.5"/><circle cx="573.2" cy="322.1" r="4.1"/><circle cx="571.2" cy="316.7" r="4.5"/><circle cx="569.1" cy="320.9" r="4.6"/><circle cx="570.5" cy="294.2" r="3.5"/><circle cx="569.0" cy="328.2" r="4.1"/><circle cx="561.4" cy="326.3" r="4.5"/><circle cx="572.5" cy="298.4" r="3.8"/><circle cx="564.9" cy="305.0" r="3.9"/><circle cx="560.5" cy="318.1" r="3.7"/><circle cx="565.7" cy="316.0" r="4.5"/></g>
<g fill="url(#sm)"><circle cx="528.3" cy="288.4" r="4.3"/><circle cx="527.2" cy="285.2" r="3.8"/></g>
<g fill="url(#sg)"><circle cx="521.9" cy="286.5" r="3.9"/><circle cx="529.2" cy="281.2" r="4.1"/><circle cx="523.8" cy="288.9" r="4.2"/><circle cx="530.2" cy="285.6" r="3.9"/></g>
<g fill="url(#sm)"><circle cx="507.6" cy="328.2" r="4.5"/></g>
<g fill="url(#sg)"><circle cx="510.9" cy="322.8" r="4.6"/><circle cx="506.1" cy="324.5" r="4.5"/></g>
<g fill="url(#sd)"><circle cx="526.7" cy="345.9" r="3.6"/><circle cx="520.7" cy="344.0" r="3.8"/><circle cx="518.5" cy="341.2" r="4.2"/><circle cx="518.4" cy="349.5" r="4.2"/><circle cx="523.1" cy="348.2" r="4.5"/><circle cx="526.6" cy="349.6" r="4.0"/><circle cx="520.7" cy="353.5" r="3.6"/></g>
<g fill="url(#sd)"><circle cx="574.3" cy="315.5" r="3.8"/><circle cx="572.8" cy="323.6" r="4.1"/><circle cx="563.1" cy="312.4" r="3.5"/><circle cx="576.8" cy="316.9" r="3.6"/><circle cx="571.2" cy="313.7" r="4.5"/><circle cx="576.9" cy="324.5" r="4.4"/><circle cx="561.8" cy="321.4" r="3.5"/><circle cx="565.9" cy="321.0" r="4.0"/><circle cx="569.0" cy="325.1" r="4.6"/><circle cx="567.7" cy="316.0" r="3.9"/><circle cx="563.1" cy="316.5" r="4.4"/><circle cx="570.6" cy="321.6" r="4.5"/><circle cx="559.8" cy="315.8" r="4.3"/><circle cx="567.2" cy="312.3" r="4.1"/></g>
<g fill="url(#sm)"><circle cx="553.1" cy="362.0" r="4.3"/><circle cx="545.2" cy="351.5" r="3.7"/><circle cx="535.6" cy="354.6" r="3.9"/><circle cx="533.8" cy="371.5" r="4.3"/><circle cx="538.8" cy="361.5" r="3.7"/><circle cx="541.8" cy="359.7" r="3.7"/><circle cx="543.0" cy="362.5" r="4.0"/><circle cx="537.1" cy="358.8" r="3.7"/><circle cx="530.4" cy="361.6" r="3.8"/><circle cx="548.5" cy="355.3" r="3.7"/><circle cx="529.2" cy="375.4" r="3.7"/><circle cx="535.7" cy="374.0" r="3.6"/></g>
<g fill="url(#sg)"><circle cx="551.2" cy="358.4" r="4.0"/><circle cx="538.3" cy="351.9" r="3.9"/><circle cx="560.9" cy="372.9" r="3.7"/><circle cx="550.1" cy="365.4" r="3.7"/><circle cx="556.7" cy="379.1" r="3.9"/><circle cx="547.5" cy="363.7" r="3.6"/><circle cx="539.4" cy="369.8" r="3.8"/><circle cx="551.8" cy="354.0" r="3.5"/><circle cx="556.0" cy="366.2" r="4.3"/><circle cx="525.4" cy="369.2" r="3.6"/><circle cx="554.0" cy="370.5" r="4.0"/><circle cx="528.9" cy="367.3" r="3.7"/><circle cx="560.1" cy="357.7" r="4.3"/><circle cx="531.7" cy="366.3" r="4.6"/><circle cx="556.8" cy="362.1" r="4.3"/><circle cx="546.9" cy="359.6" r="3.6"/><circle cx="555.6" cy="357.8" r="3.7"/><circle cx="537.2" cy="366.9" r="3.7"/><circle cx="534.1" cy="363.3" r="4.5"/></g>
<g fill="url(#sg)"><circle cx="586.6" cy="355.1" r="4.5"/><circle cx="588.0" cy="357.9" r="4.3"/></g>
<g fill="url(#sc)"><circle cx="598.2" cy="289.4" r="4.1"/><circle cx="605.4" cy="294.7" r="3.9"/></g>
<g fill="url(#sb)"><circle cx="602.2" cy="290.7" r="3.7"/><circle cx="607.3" cy="290.6" r="4.1"/><circle cx="610.5" cy="290.5" r="4.4"/></g>
<g fill="url(#sb)"><circle cx="600.7" cy="312.6" r="4.0"/><circle cx="603.6" cy="310.4" r="3.6"/></g>
<g fill="url(#sc)"><circle cx="550.3" cy="290.1" r="3.8"/><circle cx="578.8" cy="280.2" r="3.6"/><circle cx="553.8" cy="298.7" r="4.2"/><circle cx="555.9" cy="286.5" r="4.4"/><circle cx="579.6" cy="276.8" r="3.8"/><circle cx="552.1" cy="295.5" r="3.7"/><circle cx="548.9" cy="300.2" r="4.0"/><circle cx="559.6" cy="295.3" r="3.8"/><circle cx="571.9" cy="276.7" r="4.3"/><circle cx="575.1" cy="283.7" r="3.8"/></g>
<g fill="url(#sb)"><circle cx="566.2" cy="283.7" r="3.8"/><circle cx="564.2" cy="286.7" r="3.9"/><circle cx="559.9" cy="287.0" r="4.4"/><circle cx="574.8" cy="275.1" r="4.3"/><circle cx="572.2" cy="283.0" r="3.6"/><circle cx="552.5" cy="287.5" r="3.7"/><circle cx="557.2" cy="292.4" r="3.6"/><circle cx="543.5" cy="293.9" r="4.2"/><circle cx="568.5" cy="286.3" r="4.2"/><circle cx="558.5" cy="283.1" r="3.7"/><circle cx="562.5" cy="283.1" r="3.8"/><circle cx="563.6" cy="290.3" r="4.4"/><circle cx="546.6" cy="295.7" r="3.6"/><circle cx="572.5" cy="279.9" r="4.3"/><circle cx="579.2" cy="272.5" r="4.4"/></g>
<g fill="url(#sc)"><circle cx="550.9" cy="322.5" r="4.0"/><circle cx="549.5" cy="319.7" r="4.2"/><circle cx="546.9" cy="314.6" r="4.6"/><circle cx="556.8" cy="315.2" r="3.9"/><circle cx="553.9" cy="304.3" r="3.6"/><circle cx="558.6" cy="318.4" r="3.9"/><circle cx="560.8" cy="322.4" r="4.0"/></g>
<g fill="url(#sb)"><circle cx="551.1" cy="308.4" r="3.8"/><circle cx="550.2" cy="304.2" r="4.2"/><circle cx="558.9" cy="327.6" r="4.5"/><circle cx="555.6" cy="324.6" r="3.6"/><circle cx="548.3" cy="311.7" r="4.0"/><circle cx="557.7" cy="311.2" r="3.7"/><circle cx="552.4" cy="314.6" r="4.0"/><circle cx="545.8" cy="307.9" r="3.9"/><circle cx="552.5" cy="310.9" r="3.6"/><circle cx="553.0" cy="320.0" r="4.5"/><circle cx="555.8" cy="307.2" r="4.0"/></g>
<g fill="url(#sb)"><circle cx="557.6" cy="322.4" r="4.0"/></g>
<g fill="url(#sc)"><circle cx="562.3" cy="351.3" r="4.4"/><circle cx="541.3" cy="340.2" r="4.2"/><circle cx="559.9" cy="355.1" r="4.0"/><circle cx="578.5" cy="340.7" r="4.4"/><circle cx="574.1" cy="339.6" r="3.7"/><circle cx="563.0" cy="355.1" r="3.6"/><circle cx="562.1" cy="330.0" r="4.2"/><circle cx="556.5" cy="348.6" r="3.7"/><circle cx="555.4" cy="341.1" r="4.4"/><circle cx="580.5" cy="351.3" r="4.5"/><circle cx="573.1" cy="347.1" r="4.3"/><circle cx="556.9" cy="352.1" r="3.6"/><circle cx="584.0" cy="351.9" r="4.0"/><circle cx="542.5" cy="348.1" r="3.6"/><circle cx="564.0" cy="348.3" r="4.3"/><circle cx="540.5" cy="336.9" r="3.8"/><circle cx="565.4" cy="339.6" r="3.6"/><circle cx="534.1" cy="345.0" r="4.4"/><circle cx="589.0" cy="351.3" r="4.4"/><circle cx="586.1" cy="349.2" r="3.9"/><circle cx="566.0" cy="352.5" r="3.6"/><circle cx="571.1" cy="344.6" r="3.5"/></g>
<g fill="url(#sb)"><circle cx="533.5" cy="339.8" r="3.9"/><circle cx="536.3" cy="340.8" r="3.6"/><circle cx="578.9" cy="356.9" r="3.8"/><circle cx="548.8" cy="344.6" r="4.1"/><circle cx="570.0" cy="333.0" r="4.4"/><circle cx="565.3" cy="332.8" r="3.7"/><circle cx="539.6" cy="345.5" r="3.7"/><circle cx="550.5" cy="341.2" r="3.7"/><circle cx="576.7" cy="345.3" r="4.3"/><circle cx="543.5" cy="337.8" r="4.1"/><circle cx="586.7" cy="356.6" r="4.3"/><circle cx="544.1" cy="343.0" r="4.4"/><circle cx="568.0" cy="348.7" r="3.8"/><circle cx="557.1" cy="345.0" r="4.1"/><circle cx="574.5" cy="356.2" r="3.9"/><circle cx="583.0" cy="356.9" r="4.0"/><circle cx="568.7" cy="339.9" r="4.6"/><circle cx="560.7" cy="344.4" r="4.5"/><circle cx="560.8" cy="335.8" r="4.3"/><circle cx="566.2" cy="328.2" r="4.4"/><circle cx="559.7" cy="340.7" r="4.3"/><circle cx="558.7" cy="332.0" r="4.0"/><circle cx="555.8" cy="332.9" r="4.0"/><circle cx="565.6" cy="336.6" r="3.8"/><circle cx="570.0" cy="351.6" r="4.0"/><circle cx="536.2" cy="348.1" r="3.7"/><circle cx="576.6" cy="352.1" r="4.6"/><circle cx="583.2" cy="349.2" r="3.7"/><circle cx="545.8" cy="339.8" r="4.3"/><circle cx="566.2" cy="343.2" r="4.4"/><circle cx="584.5" cy="343.4" r="3.6"/><circle cx="580.0" cy="345.1" r="3.7"/><circle cx="554.1" cy="345.6" r="4.5"/><circle cx="570.3" cy="337.5" r="3.5"/></g>
<g fill="url(#so)"><circle cx="550.5" cy="272.9" r="4.3"/><circle cx="551.3" cy="281.0" r="3.6"/><circle cx="549.0" cy="262.3" r="4.5"/><circle cx="542.8" cy="285.6" r="4.4"/><circle cx="554.6" cy="281.0" r="4.3"/><circle cx="552.7" cy="276.3" r="3.5"/><circle cx="547.3" cy="284.8" r="3.8"/><circle cx="558.2" cy="268.5" r="3.7"/><circle cx="555.0" cy="258.5" r="4.5"/><circle cx="558.2" cy="276.9" r="3.8"/></g>
<g fill="url(#sn)"><circle cx="545.0" cy="282.4" r="3.9"/><circle cx="549.9" cy="258.8" r="3.7"/><circle cx="549.1" cy="276.7" r="4.3"/><circle cx="551.3" cy="265.1" r="3.6"/><circle cx="552.6" cy="260.7" r="4.0"/><circle cx="549.3" cy="254.5" r="4.3"/><circle cx="547.0" cy="289.4" r="3.9"/><circle cx="546.0" cy="265.5" r="3.7"/><circle cx="554.1" cy="265.1" r="4.1"/><circle cx="546.4" cy="274.3" r="3.7"/><circle cx="549.3" cy="287.8" r="4.3"/><circle cx="544.5" cy="261.8" r="4.4"/><circle cx="553.6" cy="269.9" r="3.8"/><circle cx="539.8" cy="285.5" r="3.6"/><circle cx="556.0" cy="273.1" r="3.9"/><circle cx="544.5" cy="268.8" r="3.5"/><circle cx="546.3" cy="256.6" r="4.4"/></g>
<g fill="url(#so)"><circle cx="542.4" cy="299.6" r="4.4"/><circle cx="522.7" cy="317.5" r="3.6"/><circle cx="535.0" cy="300.1" r="4.4"/><circle cx="545.1" cy="317.3" r="3.9"/><circle cx="528.4" cy="321.2" r="3.7"/><circle cx="545.5" cy="309.5" r="4.1"/><circle cx="532.8" cy="306.4" r="4.5"/><circle cx="534.5" cy="291.6" r="3.9"/><circle cx="535.3" cy="303.9" r="4.1"/><circle cx="530.4" cy="287.2" r="4.4"/><circle cx="532.7" cy="318.8" r="4.6"/><circle cx="521.0" cy="321.6" r="4.0"/><circle cx="539.0" cy="300.2" r="4.0"/><circle cx="543.2" cy="321.2" r="4.2"/><circle cx="546.6" cy="322.4" r="4.0"/><circle cx="535.4" cy="325.2" r="4.0"/></g>
<g fill="url(#sn)"><circle cx="531.4" cy="301.6" r="4.3"/><circle cx="528.9" cy="307.4" r="3.6"/><circle cx="532.3" cy="311.2" r="3.8"/><circle cx="539.2" cy="312.0" r="4.0"/><circle cx="539.5" cy="295.9" r="4.1"/><circle cx="537.9" cy="321.8" r="3.5"/><circle cx="537.0" cy="294.2" r="4.1"/><circle cx="540.4" cy="288.3" r="4.5"/><circle cx="517.4" cy="326.2" r="4.4"/><circle cx="532.7" cy="327.2" r="3.5"/><circle cx="523.6" cy="326.4" r="3.8"/><circle cx="534.7" cy="286.8" r="4.6"/><circle cx="541.9" cy="315.6" r="4.5"/><circle cx="529.6" cy="315.8" r="3.8"/><circle cx="541.1" cy="318.5" r="3.9"/><circle cx="515.3" cy="322.3" r="4.2"/><circle cx="541.9" cy="307.7" r="3.8"/><circle cx="532.6" cy="322.4" r="4.4"/><circle cx="541.7" cy="302.9" r="4.0"/><circle cx="531.1" cy="296.4" r="4.2"/><circle cx="524.9" cy="315.6" r="4.5"/><circle cx="529.8" cy="291.0" r="3.5"/><circle cx="535.4" cy="311.9" r="4.0"/><circle cx="541.5" cy="325.8" r="3.8"/><circle cx="537.0" cy="315.7" r="4.2"/></g>
<g fill="url(#so)"><circle cx="520.6" cy="335.1" r="3.8"/><circle cx="517.8" cy="317.2" r="4.0"/><circle cx="532.4" cy="330.4" r="4.4"/><circle cx="524.5" cy="323.3" r="3.9"/><circle cx="540.0" cy="335.0" r="4.0"/><circle cx="536.5" cy="329.2" r="3.6"/><circle cx="519.3" cy="330.0" r="4.6"/><circle cx="527.3" cy="338.0" r="4.1"/><circle cx="523.2" cy="337.9" r="4.0"/><circle cx="527.6" cy="334.8" r="3.7"/></g>
<g fill="url(#sn)"><circle cx="526.0" cy="311.0" r="4.0"/><circle cx="526.7" cy="325.2" r="3.9"/><circle cx="535.0" cy="333.5" r="3.7"/><circle cx="545.4" cy="327.4" r="3.9"/><circle cx="531.0" cy="333.6" r="3.9"/><circle cx="516.3" cy="334.8" r="4.2"/><circle cx="513.9" cy="338.1" r="3.6"/><circle cx="535.7" cy="319.5" r="4.6"/><circle cx="526.9" cy="317.7" r="4.4"/><circle cx="510.4" cy="331.3" r="3.5"/><circle cx="537.3" cy="306.1" r="4.0"/><circle cx="513.9" cy="327.0" r="4.3"/><circle cx="513.4" cy="334.8" r="3.5"/><circle cx="524.9" cy="329.2" r="4.5"/><circle cx="543.2" cy="331.0" r="4.6"/></g>
<path d="M487.4 336.1 L504.1 333.8M494.4 336.1 L498.5 356.9M509.6 341.6 L505.5 358.3" stroke="#dd8a86" stroke-width="1.6" fill="none" stroke-linecap="round" stroke-linejoin="round"/>
<circle cx="263.5" cy="195.4" r="5.6" fill="#6aa84f"/><circle cx="402" cy="195.4" r="5.6" fill="#2c55b5"/>
<g font-family="'Liberation Sans',Arial,sans-serif" font-size="9.6" fill="#222">
<text x="274.8" y="198.8">Growth-improving</text><text x="411.8" y="198.8">Stringent</text>
<text x="174" y="231.5" text-anchor="middle">RpoC</text><text x="174" y="244" text-anchor="middle">(Bridge Helix)</text>
<text x="43.7" y="278.7">Target</text>
<text x="122.7" y="421.4" text-anchor="middle">DNA</text><text x="122.7" y="433" text-anchor="middle">Non-template</text><text x="122.7" y="444.3" text-anchor="middle">strand</text>
<text x="233.8" y="332.7">90<tspan font-size="5.6" dy="-3">O</tspan><tspan dy="3">C</tspan></text>
<text x="429.3" y="332.7">90<tspan font-size="5.6" dy="-3">O</tspan><tspan dy="3">C</tspan></text>
</g>
<g transform="translate(240.9 0)" stroke="#111" fill="none" stroke-width="1.4"><path d="M0 296.6V318.7"/><path d="M0 302.2C-5 302.2 -9.3 303.5 -9.3 305.3C-9.3 307.4 -4 308.3 0 308.3C2 308.3 3.2 308.2 4.6 308"/><path d="M2 306L8.2 306L4.7 310.8Z" fill="#111" stroke-width="0.6"/></g>
<g transform="translate(436.4 0)" stroke="#111" fill="none" stroke-width="1.4"><path d="M0 296.6V318.7"/><path d="M0 302.2C-5 302.2 -9.3 303.5 -9.3 305.3C-9.3 307.4 -4 308.3 0 308.3C2 308.3 3.2 308.2 4.6 308"/><path d="M2 306L8.2 306L4.7 310.8Z" fill="#111" stroke-width="0.6"/></g>
<text x="0.5" y="183.5" font-family="'Liberation Sans',Arial,sans-serif" font-size="14.5" fill="#111">b</text>
</g>
<g id="panel-cd">
<g fill="#2b8ed0" fill-opacity="0.5">
<circle cx="64.0" cy="495.2" r="1.65"/><circle cx="64.1" cy="524.7" r="1.65"/><circle cx="64.9" cy="526.6" r="1.65"/><circle cx="63.9" cy="528.4" r="1.65"/><circle cx="64.3" cy="534.9" r="1.65"/><circle cx="64.0" cy="536.3" r="1.65"/><circle cx="64.1" cy="539.0" r="1.65"/><circle cx="63.9" cy="541.3" r="1.65"/><circle cx="66.2" cy="540.5" r="1.65"/><circle cx="64.1" cy="548.2" r="1.65"/><circle cx="62.6" cy="547.8" r="1.65"/><circle cx="66.9" cy="492.7" r="1.65"/><circle cx="65.5" cy="492.4" r="1.65"/><circle cx="66.7" cy="500.5" r="1.65"/><circle cx="67.0" cy="511.5" r="1.65"/><circle cx="69.6" cy="513.8" r="1.65"/><circle cx="66.6" cy="516.7" r="1.65"/><circle cx="67.2" cy="519.1" r="1.65"/><circle cx="68.9" cy="520.2" r="1.65"/><circle cx="66.7" cy="525.8" r="1.65"/><circle cx="67.3" cy="530.7" r="1.65"/><circle cx="66.5" cy="533.5" r="1.65"/><circle cx="66.9" cy="536.4" r="1.65"/><circle cx="67.9" cy="537.5" r="1.65"/><circle cx="66.8" cy="540.6" r="1.65"/><circle cx="68.3" cy="540.8" r="1.65"/><circle cx="66.8" cy="543.6" r="1.65"/><circle cx="64.5" cy="545.0" r="1.65"/><circle cx="71.0" cy="495.0" r="1.65"/><circle cx="69.3" cy="495.0" r="1.65"/><circle cx="71.0" cy="497.1" r="1.65"/><circle cx="72.9" cy="495.4" r="1.65"/><circle cx="70.5" cy="504.2" r="1.65"/><circle cx="70.5" cy="509.6" r="1.65"/><circle cx="72.9" cy="506.5" r="1.65"/><circle cx="70.8" cy="525.0" r="1.65"/><circle cx="70.8" cy="533.0" r="1.65"/><circle cx="71.1" cy="532.5" r="1.65"/><circle cx="70.1" cy="537.0" r="1.65"/><circle cx="70.2" cy="538.7" r="1.65"/><circle cx="69.5" cy="537.7" r="1.65"/><circle cx="70.6" cy="542.8" r="1.65"/><circle cx="70.5" cy="549.2" r="1.65"/><circle cx="68.8" cy="549.8" r="1.65"/><circle cx="70.9" cy="551.9" r="1.65"/><circle cx="74.6" cy="516.6" r="1.65"/><circle cx="74.5" cy="520.4" r="1.65"/><circle cx="72.0" cy="522.1" r="1.65"/><circle cx="74.1" cy="526.4" r="1.65"/><circle cx="74.1" cy="540.3" r="1.65"/><circle cx="74.3" cy="538.2" r="1.65"/><circle cx="74.1" cy="548.8" r="1.65"/><circle cx="73.2" cy="548.6" r="1.65"/><circle cx="73.8" cy="550.5" r="1.65"/><circle cx="72.2" cy="548.0" r="1.65"/><circle cx="74.7" cy="558.6" r="1.65"/><circle cx="75.3" cy="560.6" r="1.65"/><circle cx="75.8" cy="498.5" r="1.65"/><circle cx="77.0" cy="496.3" r="1.65"/><circle cx="76.5" cy="500.0" r="1.65"/><circle cx="75.0" cy="503.1" r="1.65"/><circle cx="76.6" cy="508.8" r="1.65"/><circle cx="77.4" cy="508.2" r="1.65"/><circle cx="76.4" cy="516.6" r="1.65"/><circle cx="75.9" cy="524.6" r="1.65"/><circle cx="76.7" cy="527.6" r="1.65"/><circle cx="76.1" cy="540.0" r="1.65"/><circle cx="78.8" cy="534.5" r="1.65"/><circle cx="80.8" cy="531.5" r="1.65"/><circle cx="79.2" cy="538.1" r="1.65"/><circle cx="78.6" cy="544.0" r="1.65"/><circle cx="79.1" cy="552.6" r="1.65"/><circle cx="78.3" cy="550.7" r="1.65"/><circle cx="79.1" cy="555.5" r="1.65"/><circle cx="77.0" cy="556.6" r="1.65"/><circle cx="82.1" cy="493.3" r="1.65"/><circle cx="84.0" cy="495.9" r="1.65"/><circle cx="81.8" cy="495.7" r="1.65"/><circle cx="84.3" cy="497.5" r="1.65"/><circle cx="82.1" cy="500.6" r="1.65"/><circle cx="82.6" cy="503.6" r="1.65"/><circle cx="84.6" cy="504.8" r="1.65"/><circle cx="82.2" cy="506.2" r="1.65"/><circle cx="83.4" cy="503.6" r="1.65"/><circle cx="81.9" cy="508.2" r="1.65"/><circle cx="83.3" cy="508.8" r="1.65"/><circle cx="82.6" cy="509.7" r="1.65"/><circle cx="81.5" cy="512.1" r="1.65"/><circle cx="82.4" cy="511.2" r="1.65"/><circle cx="81.9" cy="528.8" r="1.65"/><circle cx="79.5" cy="526.0" r="1.65"/><circle cx="82.6" cy="533.9" r="1.65"/><circle cx="82.1" cy="543.7" r="1.65"/><circle cx="82.1" cy="553.7" r="1.65"/><circle cx="80.0" cy="552.2" r="1.65"/><circle cx="86.6" cy="493.0" r="1.65"/><circle cx="86.2" cy="494.7" r="1.65"/><circle cx="86.6" cy="499.5" r="1.65"/><circle cx="85.8" cy="508.1" r="1.65"/><circle cx="85.8" cy="522.6" r="1.65"/><circle cx="86.2" cy="526.4" r="1.65"/><circle cx="84.8" cy="528.0" r="1.65"/><circle cx="85.8" cy="529.1" r="1.65"/><circle cx="88.3" cy="531.7" r="1.65"/><circle cx="86.0" cy="532.5" r="1.65"/><circle cx="84.0" cy="533.5" r="1.65"/><circle cx="85.8" cy="536.3" r="1.65"/><circle cx="86.0" cy="538.8" r="1.65"/><circle cx="85.1" cy="536.0" r="1.65"/><circle cx="86.7" cy="547.0" r="1.65"/><circle cx="85.9" cy="550.4" r="1.65"/><circle cx="86.7" cy="553.6" r="1.65"/><circle cx="86.4" cy="556.4" r="1.65"/><circle cx="85.4" cy="554.8" r="1.65"/><circle cx="85.8" cy="560.8" r="1.65"/><circle cx="90.2" cy="499.4" r="1.65"/><circle cx="90.7" cy="520.7" r="1.65"/><circle cx="89.8" cy="519.5" r="1.65"/><circle cx="90.6" cy="532.0" r="1.65"/><circle cx="89.7" cy="532.3" r="1.65"/><circle cx="90.3" cy="534.8" r="1.65"/><circle cx="87.8" cy="533.1" r="1.65"/><circle cx="89.8" cy="538.7" r="1.65"/><circle cx="87.6" cy="539.6" r="1.65"/><circle cx="90.0" cy="545.9" r="1.65"/><circle cx="91.9" cy="543.7" r="1.65"/><circle cx="90.2" cy="550.9" r="1.65"/><circle cx="92.6" cy="548.8" r="1.65"/><circle cx="93.1" cy="519.6" r="1.65"/><circle cx="92.6" cy="520.1" r="1.65"/><circle cx="94.8" cy="518.7" r="1.65"/><circle cx="93.2" cy="524.5" r="1.65"/><circle cx="92.3" cy="530.6" r="1.65"/><circle cx="93.1" cy="535.0" r="1.65"/><circle cx="93.1" cy="539.8" r="1.65"/><circle cx="92.7" cy="537.6" r="1.65"/><circle cx="93.0" cy="544.8" r="1.65"/><circle cx="90.8" cy="547.8" r="1.65"/><circle cx="93.1" cy="551.7" r="1.65"/><circle cx="94.9" cy="551.4" r="1.65"/><circle cx="95.7" cy="522.6" r="1.65"/><circle cx="93.2" cy="523.6" r="1.65"/><circle cx="95.7" cy="538.7" r="1.65"/><circle cx="95.0" cy="536.4" r="1.65"/><circle cx="95.4" cy="565.4" r="1.65"/><circle cx="99.7" cy="522.3" r="1.65"/><circle cx="99.5" cy="531.3" r="1.65"/><circle cx="99.5" cy="532.3" r="1.65"/><circle cx="99.7" cy="540.8" r="1.65"/><circle cx="99.5" cy="544.6" r="1.65"/><circle cx="98.1" cy="544.1" r="1.65"/><circle cx="99.8" cy="550.0" r="1.65"/><circle cx="99.6" cy="554.7" r="1.65"/><circle cx="97.3" cy="554.8" r="1.65"/><circle cx="103.1" cy="530.4" r="1.65"/><circle cx="103.1" cy="534.6" r="1.65"/><circle cx="103.1" cy="542.6" r="1.65"/><circle cx="103.0" cy="545.7" r="1.65"/><circle cx="103.2" cy="552.0" r="1.65"/><circle cx="108.0" cy="527.5" r="1.65"/><circle cx="108.4" cy="529.2" r="1.65"/><circle cx="107.9" cy="530.9" r="1.65"/><circle cx="108.2" cy="533.7" r="1.65"/><circle cx="109.4" cy="530.8" r="1.65"/><circle cx="108.8" cy="536.9" r="1.65"/><circle cx="108.1" cy="539.0" r="1.65"/><circle cx="108.0" cy="540.9" r="1.65"/><circle cx="108.5" cy="542.8" r="1.65"/><circle cx="110.7" cy="545.8" r="1.65"/><circle cx="108.2" cy="544.9" r="1.65"/><circle cx="106.5" cy="543.8" r="1.65"/><circle cx="108.0" cy="547.0" r="1.65"/><circle cx="108.0" cy="548.7" r="1.65"/><circle cx="106.0" cy="547.4" r="1.65"/><circle cx="108.1" cy="551.8" r="1.65"/><circle cx="106.5" cy="551.4" r="1.65"/><circle cx="107.9" cy="554.7" r="1.65"/><circle cx="114.0" cy="520.9" r="1.65"/><circle cx="114.3" cy="519.5" r="1.65"/><circle cx="113.8" cy="522.2" r="1.65"/><circle cx="114.0" cy="524.0" r="1.65"/><circle cx="113.8" cy="527.7" r="1.65"/><circle cx="114.0" cy="534.8" r="1.65"/><circle cx="112.9" cy="532.3" r="1.65"/><circle cx="114.0" cy="537.4" r="1.65"/><circle cx="113.8" cy="544.0" r="1.65"/><circle cx="114.2" cy="544.4" r="1.65"/><circle cx="114.6" cy="543.2" r="1.65"/><circle cx="117.1" cy="532.6" r="1.65"/><circle cx="114.5" cy="532.2" r="1.65"/><circle cx="117.0" cy="535.5" r="1.65"/><circle cx="118.5" cy="536.7" r="1.65"/><circle cx="117.1" cy="540.8" r="1.65"/><circle cx="115.5" cy="537.6" r="1.65"/><circle cx="116.9" cy="542.7" r="1.65"/><circle cx="117.4" cy="544.7" r="1.65"/><circle cx="117.1" cy="546.9" r="1.65"/><circle cx="118.3" cy="550.0" r="1.65"/><circle cx="120.9" cy="518.1" r="1.65"/><circle cx="121.1" cy="520.3" r="1.65"/><circle cx="120.5" cy="519.8" r="1.65"/><circle cx="121.0" cy="522.7" r="1.65"/><circle cx="121.3" cy="525.1" r="1.65"/><circle cx="121.1" cy="527.3" r="1.65"/><circle cx="121.2" cy="532.8" r="1.65"/><circle cx="121.9" cy="533.7" r="1.65"/><circle cx="121.5" cy="534.9" r="1.65"/><circle cx="121.3" cy="538.9" r="1.65"/><circle cx="120.9" cy="550.4" r="1.65"/><circle cx="121.4" cy="553.6" r="1.65"/><circle cx="123.2" cy="553.5" r="1.65"/><circle cx="121.0" cy="555.2" r="1.65"/><circle cx="122.3" cy="554.7" r="1.65"/><circle cx="120.9" cy="563.7" r="1.65"/><circle cx="121.0" cy="566.5" r="1.65"/><circle cx="126.8" cy="517.1" r="1.65"/><circle cx="126.7" cy="524.5" r="1.65"/><circle cx="128.8" cy="523.0" r="1.65"/><circle cx="126.2" cy="532.0" r="1.65"/><circle cx="125.5" cy="532.1" r="1.65"/><circle cx="126.9" cy="534.4" r="1.65"/><circle cx="126.9" cy="540.9" r="1.65"/><circle cx="127.4" cy="539.2" r="1.65"/><circle cx="126.7" cy="550.4" r="1.65"/><circle cx="127.0" cy="551.5" r="1.65"/><circle cx="129.4" cy="552.8" r="1.65"/><circle cx="127.0" cy="555.2" r="1.65"/><circle cx="126.8" cy="557.4" r="1.65"/><circle cx="128.1" cy="559.3" r="1.65"/><circle cx="126.3" cy="559.7" r="1.65"/><circle cx="128.8" cy="559.3" r="1.65"/><circle cx="136.0" cy="534.5" r="1.65"/><circle cx="135.4" cy="544.7" r="1.65"/><circle cx="133.5" cy="546.1" r="1.65"/><circle cx="135.5" cy="549.8" r="1.65"/><circle cx="136.6" cy="551.2" r="1.65"/><circle cx="135.4" cy="554.3" r="1.65"/><circle cx="135.4" cy="551.7" r="1.65"/><circle cx="140.3" cy="510.5" r="1.65"/><circle cx="141.0" cy="522.1" r="1.65"/><circle cx="142.0" cy="524.2" r="1.65"/><circle cx="141.0" cy="526.8" r="1.65"/><circle cx="142.8" cy="524.4" r="1.65"/><circle cx="140.8" cy="527.4" r="1.65"/><circle cx="140.7" cy="526.6" r="1.65"/><circle cx="140.2" cy="532.5" r="1.65"/><circle cx="140.5" cy="534.8" r="1.65"/><circle cx="141.7" cy="533.7" r="1.65"/><circle cx="140.7" cy="539.0" r="1.65"/><circle cx="140.1" cy="542.9" r="1.65"/><circle cx="140.4" cy="545.6" r="1.65"/><circle cx="141.0" cy="553.5" r="1.65"/><circle cx="145.8" cy="524.9" r="1.65"/><circle cx="145.1" cy="528.8" r="1.65"/><circle cx="145.1" cy="536.6" r="1.65"/><circle cx="144.9" cy="538.8" r="1.65"/><circle cx="146.0" cy="538.3" r="1.65"/><circle cx="147.7" cy="535.4" r="1.65"/><circle cx="145.3" cy="540.4" r="1.65"/><circle cx="142.9" cy="541.2" r="1.65"/><circle cx="145.8" cy="542.8" r="1.65"/><circle cx="145.7" cy="544.6" r="1.65"/><circle cx="146.0" cy="546.8" r="1.65"/><circle cx="143.7" cy="549.5" r="1.65"/><circle cx="145.6" cy="548.5" r="1.65"/><circle cx="150.2" cy="533.1" r="1.65"/><circle cx="149.4" cy="532.6" r="1.65"/><circle cx="149.8" cy="535.0" r="1.65"/><circle cx="150.7" cy="536.4" r="1.65"/><circle cx="150.4" cy="537.9" r="1.65"/><circle cx="160.8" cy="503.8" r="1.65"/><circle cx="163.0" cy="506.1" r="1.65"/><circle cx="161.4" cy="533.0" r="1.65"/><circle cx="163.0" cy="532.8" r="1.65"/><circle cx="160.9" cy="536.1" r="1.65"/><circle cx="161.1" cy="535.7" r="1.65"/><circle cx="160.7" cy="537.0" r="1.65"/><circle cx="161.5" cy="537.9" r="1.65"/><circle cx="159.3" cy="539.8" r="1.65"/><circle cx="167.0" cy="529.0" r="1.65"/><circle cx="168.2" cy="527.8" r="1.65"/><circle cx="167.1" cy="542.9" r="1.65"/><circle cx="167.8" cy="543.5" r="1.65"/><circle cx="166.5" cy="543.9" r="1.65"/><circle cx="167.3" cy="544.5" r="1.65"/><circle cx="167.9" cy="545.7" r="1.65"/><circle cx="168.7" cy="545.4" r="1.65"/><circle cx="167.9" cy="548.8" r="1.65"/><circle cx="167.6" cy="551.6" r="1.65"/><circle cx="167.8" cy="572.3" r="1.65"/><circle cx="167.1" cy="572.5" r="1.65"/>
</g>
<path d="M64.6 529.4L167.2 545.5" stroke="#3054a5" stroke-width="2.4" stroke-linecap="round" fill="none"/>
<rect x="59" y="477.5" width="113.3" height="117.6" fill="none" stroke="#000" stroke-width="1.1"/>
<path d="M80.2 595.1v2.2M106.6 595.1v2.2M132.7 595.1v2.2M158.7 595.1v2.2M59 477.5h-2.2M59 492.2h-2.2M59 506.9h-2.2M59 521.6h-2.2M59 536.3h-2.2M59 551.0h-2.2M59 565.7h-2.2M59 580.4h-2.2M59 595.1h-2.2" stroke="#000" stroke-width="0.8" fill="none"/>
<g font-family="'Liberation Sans',Arial,sans-serif" font-size="7.1" fill="#111">
<text x="80.2" y="604.4" text-anchor="middle">5</text>
<text x="106.6" y="604.4" text-anchor="middle">10</text>
<text x="132.7" y="604.4" text-anchor="middle">15</text>
<text x="158.7" y="604.4" text-anchor="middle">20</text>
<text x="55.4" y="480.0" text-anchor="end">0.20</text>
<text x="55.4" y="494.7" text-anchor="end">0.15</text>
<text x="55.4" y="509.4" text-anchor="end">0.10</text>
<text x="55.4" y="524.1" text-anchor="end">0.05</text>
<text x="55.4" y="538.8" text-anchor="end">0.00</text>
<text x="55.4" y="553.5" text-anchor="end">−0.05</text>
<text x="55.4" y="568.2" text-anchor="end">−0.10</text>
<text x="55.4" y="582.9" text-anchor="end">−0.15</text>
<text x="55.4" y="597.6" text-anchor="end">−0.20</text>
</g>
<text x="113.5" y="470.2" font-family="'Liberation Sans',Arial,sans-serif" font-size="9.8" fill="#222" text-anchor="middle">ρ = -0.30, p-value &lt; 10<tspan font-size="6" dy="-3.6">-7</tspan></text>
<text font-family="'Liberation Sans',Arial,sans-serif" font-size="9" fill="#111" text-anchor="middle"><tspan x="116.2" y="613.9">Distance from rpoC</tspan><tspan x="116.2" y="623.6">(Angstroms)</tspan></text>
<text transform="translate(34.8 536.6) rotate(-90)" font-family="'Liberation Sans',Arial,sans-serif" font-size="8.6" fill="#111" text-anchor="middle">Fitness</text>
<g fill="#2b8ed0" fill-opacity="0.5">
<circle cx="221.4" cy="542.1" r="1.65"/><circle cx="219.3" cy="544.2" r="1.65"/><circle cx="221.2" cy="545.8" r="1.65"/><circle cx="221.7" cy="546.5" r="1.65"/><circle cx="221.0" cy="546.4" r="1.65"/><circle cx="220.5" cy="547.8" r="1.65"/><circle cx="221.5" cy="549.4" r="1.65"/><circle cx="221.2" cy="547.9" r="1.65"/><circle cx="220.5" cy="551.9" r="1.65"/><circle cx="219.6" cy="551.1" r="1.65"/><circle cx="225.9" cy="521.8" r="1.65"/><circle cx="225.3" cy="523.4" r="1.65"/><circle cx="223.4" cy="523.5" r="1.65"/><circle cx="226.0" cy="527.9" r="1.65"/><circle cx="228.1" cy="529.8" r="1.65"/><circle cx="225.8" cy="535.1" r="1.65"/><circle cx="225.8" cy="538.6" r="1.65"/><circle cx="226.0" cy="539.4" r="1.65"/><circle cx="225.8" cy="540.7" r="1.65"/><circle cx="225.7" cy="543.4" r="1.65"/><circle cx="225.5" cy="545.9" r="1.65"/><circle cx="227.5" cy="548.5" r="1.65"/><circle cx="225.5" cy="549.7" r="1.65"/><circle cx="225.8" cy="551.6" r="1.65"/><circle cx="224.8" cy="552.9" r="1.65"/><circle cx="225.2" cy="554.0" r="1.65"/><circle cx="227.3" cy="552.7" r="1.65"/><circle cx="226.0" cy="554.8" r="1.65"/><circle cx="226.1" cy="555.8" r="1.65"/><circle cx="225.6" cy="556.5" r="1.65"/><circle cx="225.7" cy="559.3" r="1.65"/><circle cx="225.7" cy="559.9" r="1.65"/><circle cx="228.7" cy="533.1" r="1.65"/><circle cx="230.0" cy="530.2" r="1.65"/><circle cx="228.7" cy="535.5" r="1.65"/><circle cx="230.6" cy="533.0" r="1.65"/><circle cx="228.5" cy="545.0" r="1.65"/><circle cx="227.0" cy="547.4" r="1.65"/><circle cx="228.4" cy="550.8" r="1.65"/><circle cx="227.7" cy="548.7" r="1.65"/><circle cx="228.7" cy="553.3" r="1.65"/><circle cx="228.0" cy="555.8" r="1.65"/><circle cx="226.8" cy="557.8" r="1.65"/><circle cx="228.2" cy="563.3" r="1.65"/><circle cx="231.2" cy="518.8" r="1.65"/><circle cx="231.0" cy="520.0" r="1.65"/><circle cx="231.6" cy="521.6" r="1.65"/><circle cx="230.9" cy="531.6" r="1.65"/><circle cx="230.7" cy="533.3" r="1.65"/><circle cx="231.6" cy="533.1" r="1.65"/><circle cx="231.7" cy="536.9" r="1.65"/><circle cx="230.2" cy="537.9" r="1.65"/><circle cx="231.1" cy="538.4" r="1.65"/><circle cx="233.1" cy="536.0" r="1.65"/><circle cx="231.4" cy="542.6" r="1.65"/><circle cx="229.5" cy="545.5" r="1.65"/><circle cx="231.1" cy="546.8" r="1.65"/><circle cx="228.6" cy="547.1" r="1.65"/><circle cx="235.1" cy="493.0" r="1.65"/><circle cx="233.4" cy="490.4" r="1.65"/><circle cx="235.6" cy="495.9" r="1.65"/><circle cx="235.9" cy="497.7" r="1.65"/><circle cx="235.6" cy="496.1" r="1.65"/><circle cx="235.6" cy="501.0" r="1.65"/><circle cx="235.7" cy="503.7" r="1.65"/><circle cx="235.8" cy="500.5" r="1.65"/><circle cx="235.0" cy="505.8" r="1.65"/><circle cx="236.2" cy="504.1" r="1.65"/><circle cx="235.1" cy="507.6" r="1.65"/><circle cx="233.6" cy="507.7" r="1.65"/><circle cx="235.5" cy="509.7" r="1.65"/><circle cx="235.2" cy="511.2" r="1.65"/><circle cx="235.7" cy="522.7" r="1.65"/><circle cx="236.1" cy="519.9" r="1.65"/><circle cx="235.4" cy="523.8" r="1.65"/><circle cx="233.3" cy="525.7" r="1.65"/><circle cx="235.4" cy="533.7" r="1.65"/><circle cx="235.6" cy="538.5" r="1.65"/><circle cx="235.4" cy="543.3" r="1.65"/><circle cx="235.1" cy="549.5" r="1.65"/><circle cx="235.7" cy="550.3" r="1.65"/><circle cx="235.2" cy="550.2" r="1.65"/><circle cx="235.2" cy="551.7" r="1.65"/><circle cx="234.1" cy="550.9" r="1.65"/><circle cx="235.9" cy="565.2" r="1.65"/><circle cx="238.2" cy="527.2" r="1.65"/><circle cx="238.0" cy="528.8" r="1.65"/><circle cx="238.4" cy="528.1" r="1.65"/><circle cx="236.2" cy="530.3" r="1.65"/><circle cx="238.6" cy="539.5" r="1.65"/><circle cx="238.0" cy="546.8" r="1.65"/><circle cx="242.5" cy="492.9" r="1.65"/><circle cx="242.3" cy="494.8" r="1.65"/><circle cx="242.0" cy="494.9" r="1.65"/><circle cx="244.4" cy="496.9" r="1.65"/><circle cx="242.7" cy="523.0" r="1.65"/><circle cx="241.3" cy="523.0" r="1.65"/><circle cx="242.0" cy="526.7" r="1.65"/><circle cx="242.7" cy="532.8" r="1.65"/><circle cx="241.9" cy="538.6" r="1.65"/><circle cx="241.9" cy="551.6" r="1.65"/><circle cx="239.8" cy="554.1" r="1.65"/><circle cx="242.7" cy="555.7" r="1.65"/><circle cx="241.7" cy="554.0" r="1.65"/><circle cx="242.4" cy="557.8" r="1.65"/><circle cx="242.6" cy="555.3" r="1.65"/><circle cx="242.3" cy="561.4" r="1.65"/><circle cx="243.8" cy="500.9" r="1.65"/><circle cx="244.0" cy="502.2" r="1.65"/><circle cx="245.1" cy="501.6" r="1.65"/><circle cx="244.7" cy="511.1" r="1.65"/><circle cx="243.9" cy="517.8" r="1.65"/><circle cx="244.4" cy="520.2" r="1.65"/><circle cx="243.9" cy="519.8" r="1.65"/><circle cx="243.4" cy="521.1" r="1.65"/><circle cx="244.7" cy="524.9" r="1.65"/><circle cx="247.1" cy="523.9" r="1.65"/><circle cx="247.7" cy="508.6" r="1.65"/><circle cx="247.8" cy="526.9" r="1.65"/><circle cx="247.3" cy="528.9" r="1.65"/><circle cx="247.6" cy="531.3" r="1.65"/><circle cx="248.7" cy="533.8" r="1.65"/><circle cx="247.6" cy="539.4" r="1.65"/><circle cx="249.9" cy="540.8" r="1.65"/><circle cx="247.5" cy="544.0" r="1.65"/><circle cx="247.0" cy="546.9" r="1.65"/><circle cx="247.1" cy="550.8" r="1.65"/><circle cx="247.1" cy="553.9" r="1.65"/><circle cx="247.7" cy="553.5" r="1.65"/><circle cx="251.2" cy="534.8" r="1.65"/><circle cx="249.6" cy="537.8" r="1.65"/><circle cx="251.0" cy="536.3" r="1.65"/><circle cx="252.7" cy="537.3" r="1.65"/><circle cx="251.7" cy="540.7" r="1.65"/><circle cx="251.3" cy="547.5" r="1.65"/><circle cx="248.8" cy="544.8" r="1.65"/><circle cx="251.7" cy="552.4" r="1.65"/><circle cx="253.1" cy="527.1" r="1.65"/><circle cx="253.1" cy="540.0" r="1.65"/><circle cx="251.3" cy="539.2" r="1.65"/><circle cx="256.8" cy="517.0" r="1.65"/><circle cx="257.1" cy="520.0" r="1.65"/><circle cx="256.7" cy="520.8" r="1.65"/><circle cx="256.4" cy="523.2" r="1.65"/><circle cx="256.6" cy="524.9" r="1.65"/><circle cx="256.8" cy="527.5" r="1.65"/><circle cx="256.4" cy="533.0" r="1.65"/><circle cx="257.1" cy="534.9" r="1.65"/><circle cx="256.9" cy="539.6" r="1.65"/><circle cx="256.4" cy="542.8" r="1.65"/><circle cx="256.5" cy="545.0" r="1.65"/><circle cx="257.1" cy="546.8" r="1.65"/><circle cx="255.7" cy="546.5" r="1.65"/><circle cx="256.5" cy="549.5" r="1.65"/><circle cx="256.4" cy="553.9" r="1.65"/><circle cx="255.7" cy="552.7" r="1.65"/><circle cx="256.4" cy="555.6" r="1.65"/><circle cx="256.1" cy="554.3" r="1.65"/><circle cx="257.2" cy="559.0" r="1.65"/><circle cx="257.9" cy="561.7" r="1.65"/><circle cx="258.6" cy="510.5" r="1.65"/><circle cx="257.0" cy="511.7" r="1.65"/><circle cx="258.7" cy="511.7" r="1.65"/><circle cx="258.5" cy="523.0" r="1.65"/><circle cx="258.7" cy="529.0" r="1.65"/><circle cx="260.7" cy="531.7" r="1.65"/><circle cx="258.8" cy="531.9" r="1.65"/><circle cx="259.0" cy="533.9" r="1.65"/><circle cx="259.2" cy="540.9" r="1.65"/><circle cx="261.0" cy="499.4" r="1.65"/><circle cx="261.0" cy="508.8" r="1.65"/><circle cx="263.4" cy="507.8" r="1.65"/><circle cx="261.2" cy="516.1" r="1.65"/><circle cx="263.5" cy="513.7" r="1.65"/><circle cx="260.7" cy="516.7" r="1.65"/><circle cx="262.9" cy="519.1" r="1.65"/><circle cx="261.4" cy="520.7" r="1.65"/><circle cx="260.1" cy="522.9" r="1.65"/><circle cx="261.1" cy="525.6" r="1.65"/><circle cx="260.8" cy="527.6" r="1.65"/><circle cx="260.8" cy="528.5" r="1.65"/><circle cx="259.5" cy="528.0" r="1.65"/><circle cx="260.9" cy="532.6" r="1.65"/><circle cx="259.6" cy="533.3" r="1.65"/><circle cx="261.0" cy="534.6" r="1.65"/><circle cx="260.7" cy="538.4" r="1.65"/><circle cx="261.1" cy="542.9" r="1.65"/><circle cx="261.2" cy="545.1" r="1.65"/><circle cx="261.0" cy="543.9" r="1.65"/><circle cx="264.1" cy="532.1" r="1.65"/><circle cx="263.9" cy="532.9" r="1.65"/><circle cx="264.0" cy="535.0" r="1.65"/><circle cx="264.2" cy="538.7" r="1.65"/><circle cx="264.6" cy="548.9" r="1.65"/><circle cx="264.2" cy="549.1" r="1.65"/><circle cx="263.7" cy="550.3" r="1.65"/><circle cx="265.8" cy="529.1" r="1.65"/><circle cx="266.6" cy="530.4" r="1.65"/><circle cx="268.1" cy="527.3" r="1.65"/><circle cx="265.8" cy="534.6" r="1.65"/><circle cx="263.9" cy="535.7" r="1.65"/><circle cx="265.7" cy="539.1" r="1.65"/><circle cx="265.7" cy="541.0" r="1.65"/><circle cx="265.6" cy="541.4" r="1.65"/><circle cx="265.8" cy="542.7" r="1.65"/><circle cx="264.2" cy="545.4" r="1.65"/><circle cx="266.5" cy="544.7" r="1.65"/><circle cx="266.5" cy="546.4" r="1.65"/><circle cx="264.6" cy="543.9" r="1.65"/><circle cx="265.8" cy="549.4" r="1.65"/><circle cx="264.3" cy="548.7" r="1.65"/><circle cx="266.3" cy="551.9" r="1.65"/><circle cx="266.4" cy="573.0" r="1.65"/><circle cx="267.4" cy="492.2" r="1.65"/><circle cx="267.9" cy="494.7" r="1.65"/><circle cx="266.8" cy="494.2" r="1.65"/><circle cx="267.7" cy="501.2" r="1.65"/><circle cx="268.1" cy="515.9" r="1.65"/><circle cx="266.9" cy="517.6" r="1.65"/><circle cx="268.2" cy="517.6" r="1.65"/><circle cx="267.9" cy="522.9" r="1.65"/><circle cx="268.2" cy="521.0" r="1.65"/><circle cx="267.4" cy="524.8" r="1.65"/><circle cx="267.9" cy="528.9" r="1.65"/><circle cx="267.7" cy="534.4" r="1.65"/><circle cx="268.1" cy="543.0" r="1.65"/><circle cx="267.3" cy="552.4" r="1.65"/><circle cx="268.0" cy="552.7" r="1.65"/><circle cx="271.0" cy="526.1" r="1.65"/><circle cx="271.7" cy="527.1" r="1.65"/><circle cx="270.2" cy="529.2" r="1.65"/><circle cx="271.5" cy="528.6" r="1.65"/><circle cx="271.4" cy="535.7" r="1.65"/><circle cx="272.5" cy="535.4" r="1.65"/><circle cx="271.5" cy="542.4" r="1.65"/><circle cx="271.1" cy="545.0" r="1.65"/><circle cx="270.2" cy="545.3" r="1.65"/><circle cx="271.2" cy="552.7" r="1.65"/><circle cx="271.0" cy="553.9" r="1.65"/><circle cx="273.6" cy="531.7" r="1.65"/><circle cx="272.8" cy="531.5" r="1.65"/><circle cx="273.1" cy="542.4" r="1.65"/><circle cx="271.5" cy="542.2" r="1.65"/><circle cx="273.4" cy="543.5" r="1.65"/><circle cx="273.9" cy="545.8" r="1.65"/><circle cx="273.0" cy="545.8" r="1.65"/><circle cx="273.7" cy="546.8" r="1.65"/><circle cx="272.2" cy="549.0" r="1.65"/><circle cx="273.1" cy="555.2" r="1.65"/><circle cx="275.4" cy="542.5" r="1.65"/><circle cx="274.1" cy="544.0" r="1.65"/><circle cx="275.5" cy="544.6" r="1.65"/><circle cx="277.3" cy="541.5" r="1.65"/><circle cx="275.8" cy="545.4" r="1.65"/><circle cx="276.3" cy="544.6" r="1.65"/><circle cx="275.3" cy="550.7" r="1.65"/><circle cx="279.4" cy="493.3" r="1.65"/><circle cx="279.7" cy="516.9" r="1.65"/><circle cx="282.1" cy="519.7" r="1.65"/><circle cx="279.0" cy="519.4" r="1.65"/><circle cx="279.4" cy="521.3" r="1.65"/><circle cx="278.0" cy="519.5" r="1.65"/><circle cx="278.9" cy="523.9" r="1.65"/><circle cx="279.5" cy="523.2" r="1.65"/><circle cx="279.2" cy="526.1" r="1.65"/><circle cx="279.1" cy="525.4" r="1.65"/><circle cx="279.0" cy="529.5" r="1.65"/><circle cx="280.7" cy="526.9" r="1.65"/><circle cx="279.7" cy="530.9" r="1.65"/><circle cx="280.8" cy="530.3" r="1.65"/><circle cx="279.3" cy="534.4" r="1.65"/><circle cx="279.4" cy="536.2" r="1.65"/><circle cx="279.4" cy="539.9" r="1.65"/><circle cx="279.0" cy="542.3" r="1.65"/><circle cx="277.1" cy="540.0" r="1.65"/><circle cx="279.1" cy="550.7" r="1.65"/><circle cx="282.2" cy="536.1" r="1.65"/><circle cx="282.5" cy="533.4" r="1.65"/><circle cx="282.2" cy="539.1" r="1.65"/><circle cx="281.3" cy="540.1" r="1.65"/><circle cx="282.1" cy="541.1" r="1.65"/><circle cx="281.2" cy="543.8" r="1.65"/><circle cx="282.2" cy="542.4" r="1.65"/><circle cx="281.9" cy="545.0" r="1.65"/><circle cx="285.0" cy="530.7" r="1.65"/><circle cx="287.4" cy="527.6" r="1.65"/><circle cx="284.5" cy="542.0" r="1.65"/><circle cx="285.4" cy="545.2" r="1.65"/><circle cx="284.9" cy="544.0" r="1.65"/><circle cx="285.1" cy="544.7" r="1.65"/><circle cx="284.6" cy="544.6" r="1.65"/><circle cx="284.3" cy="547.3" r="1.65"/><circle cx="285.1" cy="552.9" r="1.65"/><circle cx="287.0" cy="531.7" r="1.65"/><circle cx="285.7" cy="533.5" r="1.65"/><circle cx="287.6" cy="542.6" r="1.65"/><circle cx="286.9" cy="543.8" r="1.65"/><circle cx="285.5" cy="541.8" r="1.65"/><circle cx="286.8" cy="545.0" r="1.65"/><circle cx="285.6" cy="546.0" r="1.65"/><circle cx="286.8" cy="546.7" r="1.65"/><circle cx="286.3" cy="549.3" r="1.65"/><circle cx="286.9" cy="551.6" r="1.65"/><circle cx="286.2" cy="554.6" r="1.65"/><circle cx="292.7" cy="534.7" r="1.65"/><circle cx="292.4" cy="537.6" r="1.65"/><circle cx="292.9" cy="535.8" r="1.65"/><circle cx="293.4" cy="533.5" r="1.65"/><circle cx="292.5" cy="538.3" r="1.65"/><circle cx="293.1" cy="542.8" r="1.65"/><circle cx="292.4" cy="544.6" r="1.65"/><circle cx="292.0" cy="543.2" r="1.65"/><circle cx="292.3" cy="546.9" r="1.65"/><circle cx="294.9" cy="531.8" r="1.65"/><circle cx="293.9" cy="534.0" r="1.65"/><circle cx="295.1" cy="542.7" r="1.65"/><circle cx="294.8" cy="543.5" r="1.65"/><circle cx="294.5" cy="546.0" r="1.65"/><circle cx="295.3" cy="546.3" r="1.65"/><circle cx="309.6" cy="533.1" r="1.65"/><circle cx="309.8" cy="534.7" r="1.65"/><circle cx="311.9" cy="536.2" r="1.65"/><circle cx="309.7" cy="540.1" r="1.65"/><circle cx="310.2" cy="540.9" r="1.65"/><circle cx="309.5" cy="547.4" r="1.65"/><circle cx="309.4" cy="547.8" r="1.65"/><circle cx="313.3" cy="527.2" r="1.65"/><circle cx="313.0" cy="532.9" r="1.65"/><circle cx="313.3" cy="534.7" r="1.65"/><circle cx="315.8" cy="536.6" r="1.65"/><circle cx="313.0" cy="541.0" r="1.65"/><circle cx="313.0" cy="541.8" r="1.65"/><circle cx="316.9" cy="534.9" r="1.65"/><circle cx="316.4" cy="536.7" r="1.65"/><circle cx="314.4" cy="539.6" r="1.65"/><circle cx="316.4" cy="538.8" r="1.65"/><circle cx="316.2" cy="547.9" r="1.65"/><circle cx="314.0" cy="548.6" r="1.65"/><circle cx="325.4" cy="534.1" r="1.65"/><circle cx="323.3" cy="531.0" r="1.65"/><circle cx="325.0" cy="535.7" r="1.65"/><circle cx="325.0" cy="543.0" r="1.65"/><circle cx="327.1" cy="546.0" r="1.65"/><circle cx="329.8" cy="503.6" r="1.65"/><circle cx="329.2" cy="533.4" r="1.65"/><circle cx="328.2" cy="535.5" r="1.65"/><circle cx="329.5" cy="535.9" r="1.65"/><circle cx="328.4" cy="535.9" r="1.65"/><circle cx="329.5" cy="536.9" r="1.65"/><circle cx="329.9" cy="538.1" r="1.65"/><circle cx="331.6" cy="539.5" r="1.65"/>
</g>
<path d="M220.5 534.2L333 537.3" stroke="#3054a5" stroke-width="2.4" stroke-linecap="round" fill="none"/>
<rect x="215.4" y="477.5" width="119.9" height="117.6" fill="none" stroke="#000" stroke-width="1.1"/>
<path d="M216.2 595.1v2.2M241.4 595.1v2.2M266.7 595.1v2.2M291.9 595.1v2.2M316.8 595.1v2.2M215.4 477.5h-2.2M215.4 492.2h-2.2M215.4 506.9h-2.2M215.4 521.6h-2.2M215.4 536.3h-2.2M215.4 551.0h-2.2M215.4 565.7h-2.2M215.4 580.4h-2.2M215.4 595.1h-2.2" stroke="#000" stroke-width="0.8" fill="none"/>
<g font-family="'Liberation Sans',Arial,sans-serif" font-size="7.1" fill="#111">
<text x="216.2" y="604.4" text-anchor="middle">0</text>
<text x="241.4" y="604.4" text-anchor="middle">10</text>
<text x="266.7" y="604.4" text-anchor="middle">20</text>
<text x="291.9" y="604.4" text-anchor="middle">30</text>
<text x="316.8" y="604.4" text-anchor="middle">40</text>
<text x="211.8" y="480.0" text-anchor="end">0.20</text>
<text x="211.8" y="494.7" text-anchor="end">0.15</text>
<text x="211.8" y="509.4" text-anchor="end">0.10</text>
<text x="211.8" y="524.1" text-anchor="end">0.05</text>
<text x="211.8" y="538.8" text-anchor="end">0.00</text>
<text x="211.8" y="553.5" text-anchor="end">−0.05</text>
<text x="211.8" y="568.2" text-anchor="end">−0.10</text>
<text x="211.8" y="582.9" text-anchor="end">−0.15</text>
<text x="211.8" y="597.6" text-anchor="end">−0.20</text>
</g>
<text x="274.9" y="470.2" font-family="'Liberation Sans',Arial,sans-serif" font-size="9.8" fill="#222" text-anchor="middle">ρ = -0.04, p-value = 0.4</text>
<text font-family="'Liberation Sans',Arial,sans-serif" font-size="9" fill="#111" text-anchor="middle"><tspan x="275.0" y="613.9">Distance from DNA</tspan><tspan x="275.0" y="623.6">(Angstroms)</tspan></text>
<text transform="translate(191.4 536.6) rotate(-90)" font-family="'Liberation Sans',Arial,sans-serif" font-size="8.6" fill="#111" text-anchor="middle">Fitness</text>
<g fill="#2b8ed0" fill-opacity="0.5">
<circle cx="405.9" cy="537.2" r="1.65"/><circle cx="406.3" cy="556.6" r="1.65"/><circle cx="403.7" cy="558.8" r="1.65"/><circle cx="405.9" cy="561.4" r="1.65"/><circle cx="406.1" cy="566.0" r="1.65"/><circle cx="406.3" cy="573.6" r="1.65"/><circle cx="409.0" cy="532.1" r="1.65"/><circle cx="408.8" cy="532.8" r="1.65"/><circle cx="408.7" cy="540.1" r="1.65"/><circle cx="410.6" cy="539.9" r="1.65"/><circle cx="408.8" cy="545.6" r="1.65"/><circle cx="409.0" cy="549.3" r="1.65"/><circle cx="408.5" cy="551.8" r="1.65"/><circle cx="408.2" cy="553.2" r="1.65"/><circle cx="410.6" cy="552.8" r="1.65"/><circle cx="408.7" cy="555.4" r="1.65"/><circle cx="408.5" cy="557.4" r="1.65"/><circle cx="408.7" cy="563.0" r="1.65"/><circle cx="409.0" cy="566.0" r="1.65"/><circle cx="408.8" cy="570.5" r="1.65"/><circle cx="412.3" cy="494.7" r="1.65"/><circle cx="412.1" cy="499.3" r="1.65"/><circle cx="411.9" cy="517.7" r="1.65"/><circle cx="413.8" cy="520.8" r="1.65"/><circle cx="411.4" cy="525.2" r="1.65"/><circle cx="411.5" cy="539.1" r="1.65"/><circle cx="412.2" cy="550.1" r="1.65"/><circle cx="411.4" cy="554.7" r="1.65"/><circle cx="412.2" cy="561.0" r="1.65"/><circle cx="412.4" cy="565.6" r="1.65"/><circle cx="412.9" cy="562.6" r="1.65"/><circle cx="411.6" cy="571.7" r="1.65"/><circle cx="411.5" cy="576.5" r="1.65"/><circle cx="411.7" cy="582.4" r="1.65"/><circle cx="411.7" cy="588.1" r="1.65"/><circle cx="414.0" cy="483.7" r="1.65"/><circle cx="414.0" cy="487.6" r="1.65"/><circle cx="413.8" cy="507.8" r="1.65"/><circle cx="412.8" cy="510.9" r="1.65"/><circle cx="413.9" cy="510.7" r="1.65"/><circle cx="413.5" cy="511.2" r="1.65"/><circle cx="413.4" cy="521.0" r="1.65"/><circle cx="413.5" cy="538.3" r="1.65"/><circle cx="416.9" cy="500.4" r="1.65"/><circle cx="417.0" cy="530.7" r="1.65"/><circle cx="417.9" cy="533.7" r="1.65"/><circle cx="416.5" cy="536.1" r="1.65"/><circle cx="416.6" cy="549.3" r="1.65"/><circle cx="416.6" cy="558.7" r="1.65"/><circle cx="416.6" cy="560.8" r="1.65"/><circle cx="417.0" cy="562.3" r="1.65"/><circle cx="416.6" cy="566.5" r="1.65"/><circle cx="416.5" cy="571.6" r="1.65"/><circle cx="419.0" cy="515.5" r="1.65"/><circle cx="418.6" cy="527.3" r="1.65"/><circle cx="419.1" cy="528.8" r="1.65"/><circle cx="418.9" cy="531.4" r="1.65"/><circle cx="418.5" cy="538.9" r="1.65"/><circle cx="418.5" cy="548.6" r="1.65"/><circle cx="420.5" cy="511.5" r="1.65"/><circle cx="421.0" cy="539.5" r="1.65"/><circle cx="420.4" cy="554.3" r="1.65"/><circle cx="420.6" cy="556.4" r="1.65"/><circle cx="420.7" cy="566.7" r="1.65"/><circle cx="420.5" cy="568.4" r="1.65"/><circle cx="421.2" cy="575.3" r="1.65"/><circle cx="426.0" cy="538.1" r="1.65"/><circle cx="427.2" cy="540.3" r="1.65"/><circle cx="425.7" cy="540.3" r="1.65"/><circle cx="424.8" cy="538.5" r="1.65"/><circle cx="425.1" cy="546.4" r="1.65"/><circle cx="426.7" cy="543.5" r="1.65"/><circle cx="425.9" cy="549.6" r="1.65"/><circle cx="425.9" cy="551.8" r="1.65"/><circle cx="425.0" cy="554.7" r="1.65"/><circle cx="424.0" cy="555.7" r="1.65"/><circle cx="425.5" cy="558.5" r="1.65"/><circle cx="425.6" cy="567.6" r="1.65"/><circle cx="427.5" cy="567.5" r="1.65"/><circle cx="425.8" cy="573.7" r="1.65"/><circle cx="426.0" cy="575.8" r="1.65"/><circle cx="426.2" cy="483.0" r="1.65"/><circle cx="428.9" cy="496.7" r="1.65"/><circle cx="429.5" cy="499.0" r="1.65"/><circle cx="428.1" cy="498.3" r="1.65"/><circle cx="428.3" cy="497.8" r="1.65"/><circle cx="430.0" cy="492.6" r="1.65"/><circle cx="427.6" cy="490.2" r="1.65"/><circle cx="429.6" cy="507.3" r="1.65"/><circle cx="430.3" cy="521.2" r="1.65"/><circle cx="429.8" cy="526.8" r="1.65"/><circle cx="430.1" cy="531.1" r="1.65"/><circle cx="429.7" cy="533.0" r="1.65"/><circle cx="430.0" cy="534.4" r="1.65"/><circle cx="429.9" cy="534.8" r="1.65"/><circle cx="429.2" cy="535.5" r="1.65"/><circle cx="430.3" cy="537.1" r="1.65"/><circle cx="430.1" cy="540.2" r="1.65"/><circle cx="430.0" cy="543.5" r="1.65"/><circle cx="430.2" cy="545.3" r="1.65"/><circle cx="430.4" cy="546.5" r="1.65"/><circle cx="429.6" cy="550.4" r="1.65"/><circle cx="430.4" cy="554.8" r="1.65"/><circle cx="430.4" cy="556.8" r="1.65"/><circle cx="430.2" cy="554.4" r="1.65"/><circle cx="430.3" cy="573.0" r="1.65"/><circle cx="431.9" cy="503.7" r="1.65"/><circle cx="431.7" cy="510.4" r="1.65"/><circle cx="431.1" cy="564.4" r="1.65"/><circle cx="431.2" cy="566.4" r="1.65"/><circle cx="433.1" cy="564.3" r="1.65"/><circle cx="433.8" cy="544.6" r="1.65"/><circle cx="435.6" cy="545.7" r="1.65"/><circle cx="434.6" cy="554.9" r="1.65"/><circle cx="434.6" cy="558.2" r="1.65"/><circle cx="434.3" cy="561.8" r="1.65"/><circle cx="435.6" cy="564.6" r="1.65"/><circle cx="433.8" cy="564.5" r="1.65"/><circle cx="434.6" cy="566.5" r="1.65"/><circle cx="433.3" cy="567.3" r="1.65"/><circle cx="434.5" cy="573.8" r="1.65"/><circle cx="434.2" cy="584.9" r="1.65"/><circle cx="437.3" cy="486.2" r="1.65"/><circle cx="437.6" cy="533.3" r="1.65"/><circle cx="438.6" cy="534.9" r="1.65"/><circle cx="437.9" cy="540.3" r="1.65"/><circle cx="437.9" cy="549.7" r="1.65"/><circle cx="435.8" cy="551.3" r="1.65"/><circle cx="438.1" cy="554.5" r="1.65"/><circle cx="437.9" cy="558.3" r="1.65"/><circle cx="436.4" cy="558.9" r="1.65"/><circle cx="437.5" cy="562.4" r="1.65"/><circle cx="438.2" cy="571.7" r="1.65"/><circle cx="437.6" cy="573.1" r="1.65"/><circle cx="437.5" cy="582.8" r="1.65"/><circle cx="437.4" cy="582.0" r="1.65"/><circle cx="440.5" cy="549.3" r="1.65"/><circle cx="441.1" cy="554.2" r="1.65"/><circle cx="440.8" cy="557.6" r="1.65"/><circle cx="441.1" cy="561.9" r="1.65"/><circle cx="445.3" cy="492.5" r="1.65"/><circle cx="445.2" cy="505.8" r="1.65"/><circle cx="445.2" cy="510.5" r="1.65"/><circle cx="446.4" cy="511.6" r="1.65"/><circle cx="445.7" cy="519.7" r="1.65"/><circle cx="444.1" cy="518.2" r="1.65"/><circle cx="445.0" cy="527.2" r="1.65"/><circle cx="445.7" cy="543.7" r="1.65"/><circle cx="447.3" cy="555.5" r="1.65"/><circle cx="447.1" cy="560.3" r="1.65"/><circle cx="447.3" cy="565.6" r="1.65"/><circle cx="447.7" cy="567.3" r="1.65"/><circle cx="447.4" cy="570.8" r="1.65"/><circle cx="447.9" cy="573.7" r="1.65"/><circle cx="447.4" cy="572.9" r="1.65"/><circle cx="446.2" cy="573.9" r="1.65"/><circle cx="452.6" cy="528.3" r="1.65"/><circle cx="452.6" cy="529.4" r="1.65"/><circle cx="453.3" cy="537.4" r="1.65"/><circle cx="454.2" cy="538.4" r="1.65"/><circle cx="453.3" cy="543.1" r="1.65"/><circle cx="453.5" cy="547.5" r="1.65"/><circle cx="452.6" cy="549.4" r="1.65"/><circle cx="453.2" cy="554.6" r="1.65"/><circle cx="452.7" cy="556.7" r="1.65"/><circle cx="452.7" cy="561.9" r="1.65"/><circle cx="452.6" cy="564.0" r="1.65"/><circle cx="451.8" cy="565.4" r="1.65"/><circle cx="453.1" cy="567.8" r="1.65"/><circle cx="453.0" cy="575.7" r="1.65"/><circle cx="450.7" cy="577.1" r="1.65"/><circle cx="454.9" cy="526.4" r="1.65"/><circle cx="454.5" cy="549.2" r="1.65"/><circle cx="455.0" cy="551.1" r="1.65"/><circle cx="454.4" cy="554.7" r="1.65"/><circle cx="454.5" cy="557.5" r="1.65"/><circle cx="454.9" cy="559.5" r="1.65"/><circle cx="454.3" cy="562.5" r="1.65"/><circle cx="452.2" cy="564.3" r="1.65"/><circle cx="454.9" cy="567.5" r="1.65"/><circle cx="454.4" cy="569.0" r="1.65"/><circle cx="457.8" cy="538.4" r="1.65"/><circle cx="457.1" cy="540.2" r="1.65"/><circle cx="457.3" cy="540.6" r="1.65"/><circle cx="457.2" cy="544.1" r="1.65"/><circle cx="457.0" cy="550.7" r="1.65"/><circle cx="457.9" cy="552.4" r="1.65"/><circle cx="457.6" cy="556.6" r="1.65"/><circle cx="457.7" cy="558.4" r="1.65"/><circle cx="457.5" cy="562.7" r="1.65"/><circle cx="459.6" cy="532.3" r="1.65"/><circle cx="460.1" cy="537.2" r="1.65"/><circle cx="459.8" cy="539.2" r="1.65"/><circle cx="459.8" cy="540.2" r="1.65"/><circle cx="460.1" cy="543.3" r="1.65"/><circle cx="460.5" cy="551.2" r="1.65"/><circle cx="460.3" cy="555.2" r="1.65"/><circle cx="459.9" cy="558.2" r="1.65"/><circle cx="460.6" cy="560.5" r="1.65"/><circle cx="460.3" cy="563.4" r="1.65"/><circle cx="461.3" cy="481.1" r="1.65"/><circle cx="461.4" cy="519.3" r="1.65"/><circle cx="464.7" cy="515.7" r="1.65"/><circle cx="464.5" cy="555.5" r="1.65"/><circle cx="462.1" cy="552.8" r="1.65"/><circle cx="463.9" cy="556.3" r="1.65"/><circle cx="464.4" cy="558.6" r="1.65"/><circle cx="464.4" cy="561.5" r="1.65"/><circle cx="464.5" cy="563.6" r="1.65"/><circle cx="466.6" cy="565.0" r="1.65"/><circle cx="464.1" cy="565.6" r="1.65"/><circle cx="464.3" cy="567.5" r="1.65"/><circle cx="462.8" cy="569.3" r="1.65"/><circle cx="466.9" cy="488.2" r="1.65"/><circle cx="465.4" cy="486.1" r="1.65"/><circle cx="467.2" cy="490.1" r="1.65"/><circle cx="465.2" cy="487.9" r="1.65"/><circle cx="467.3" cy="492.0" r="1.65"/><circle cx="467.0" cy="491.4" r="1.65"/><circle cx="467.5" cy="495.1" r="1.65"/><circle cx="467.2" cy="497.1" r="1.65"/><circle cx="467.0" cy="499.2" r="1.65"/><circle cx="466.9" cy="509.4" r="1.65"/><circle cx="466.9" cy="524.0" r="1.65"/><circle cx="467.0" cy="531.3" r="1.65"/><circle cx="467.7" cy="540.1" r="1.65"/><circle cx="466.5" cy="542.1" r="1.65"/><circle cx="467.4" cy="546.2" r="1.65"/><circle cx="468.4" cy="549.2" r="1.65"/><circle cx="467.4" cy="551.0" r="1.65"/><circle cx="465.2" cy="548.9" r="1.65"/><circle cx="466.8" cy="556.2" r="1.65"/><circle cx="467.7" cy="558.3" r="1.65"/><circle cx="467.3" cy="560.9" r="1.65"/><circle cx="467.7" cy="562.3" r="1.65"/><circle cx="467.4" cy="566.1" r="1.65"/><circle cx="466.3" cy="568.3" r="1.65"/><circle cx="466.9" cy="573.8" r="1.65"/><circle cx="467.5" cy="578.3" r="1.65"/><circle cx="468.7" cy="579.8" r="1.65"/><circle cx="467.6" cy="580.0" r="1.65"/><circle cx="467.1" cy="586.0" r="1.65"/><circle cx="468.6" cy="585.9" r="1.65"/><circle cx="467.0" cy="591.9" r="1.65"/><circle cx="469.4" cy="558.7" r="1.65"/><circle cx="469.3" cy="559.3" r="1.65"/><circle cx="468.8" cy="562.6" r="1.65"/><circle cx="473.0" cy="480.8" r="1.65"/><circle cx="474.7" cy="481.7" r="1.65"/><circle cx="473.2" cy="526.7" r="1.65"/><circle cx="473.2" cy="531.3" r="1.65"/><circle cx="474.9" cy="500.8" r="1.65"/><circle cx="475.5" cy="526.1" r="1.65"/><circle cx="474.6" cy="531.8" r="1.65"/><circle cx="474.8" cy="537.8" r="1.65"/><circle cx="475.5" cy="538.4" r="1.65"/><circle cx="474.5" cy="545.1" r="1.65"/><circle cx="474.7" cy="549.5" r="1.65"/><circle cx="475.3" cy="555.6" r="1.65"/><circle cx="475.1" cy="557.3" r="1.65"/><circle cx="472.9" cy="559.4" r="1.65"/><circle cx="474.6" cy="560.2" r="1.65"/><circle cx="474.7" cy="561.9" r="1.65"/><circle cx="474.5" cy="560.2" r="1.65"/><circle cx="475.3" cy="568.2" r="1.65"/><circle cx="484.2" cy="493.1" r="1.65"/><circle cx="484.1" cy="529.6" r="1.65"/><circle cx="485.8" cy="530.2" r="1.65"/><circle cx="484.3" cy="533.9" r="1.65"/><circle cx="483.9" cy="544.5" r="1.65"/><circle cx="483.1" cy="544.4" r="1.65"/><circle cx="483.6" cy="552.5" r="1.65"/><circle cx="489.6" cy="515.5" r="1.65"/><circle cx="489.4" cy="537.7" r="1.65"/><circle cx="489.5" cy="539.2" r="1.65"/><circle cx="488.1" cy="537.0" r="1.65"/><circle cx="490.1" cy="540.4" r="1.65"/><circle cx="490.2" cy="549.5" r="1.65"/><circle cx="489.7" cy="550.4" r="1.65"/><circle cx="490.1" cy="551.8" r="1.65"/><circle cx="490.0" cy="562.6" r="1.65"/><circle cx="491.7" cy="548.8" r="1.65"/><circle cx="491.0" cy="549.7" r="1.65"/><circle cx="491.1" cy="551.5" r="1.65"/><circle cx="490.9" cy="564.5" r="1.65"/><circle cx="490.5" cy="563.5" r="1.65"/><circle cx="496.0" cy="501.7" r="1.65"/><circle cx="494.0" cy="500.4" r="1.65"/><circle cx="495.7" cy="502.2" r="1.65"/><circle cx="497.1" cy="503.5" r="1.65"/><circle cx="496.3" cy="509.0" r="1.65"/><circle cx="495.7" cy="529.8" r="1.65"/><circle cx="495.8" cy="540.3" r="1.65"/><circle cx="495.7" cy="545.6" r="1.65"/><circle cx="495.5" cy="548.1" r="1.65"/><circle cx="496.1" cy="551.3" r="1.65"/><circle cx="497.7" cy="548.1" r="1.65"/><circle cx="495.4" cy="554.5" r="1.65"/><circle cx="495.5" cy="557.2" r="1.65"/><circle cx="496.9" cy="557.0" r="1.65"/><circle cx="501.0" cy="554.7" r="1.65"/><circle cx="500.0" cy="555.3" r="1.65"/><circle cx="499.7" cy="554.2" r="1.65"/><circle cx="500.0" cy="570.8" r="1.65"/><circle cx="499.1" cy="569.2" r="1.65"/><circle cx="500.8" cy="574.8" r="1.65"/><circle cx="498.4" cy="574.4" r="1.65"/><circle cx="512.8" cy="544.9" r="1.65"/><circle cx="513.0" cy="557.4" r="1.65"/><circle cx="514.4" cy="559.2" r="1.65"/><circle cx="512.7" cy="558.8" r="1.65"/><circle cx="512.5" cy="560.3" r="1.65"/><circle cx="513.2" cy="562.9" r="1.65"/><circle cx="520.2" cy="541.2" r="1.65"/><circle cx="520.3" cy="554.8" r="1.65"/><circle cx="519.8" cy="555.5" r="1.65"/><circle cx="518.1" cy="556.7" r="1.65"/><circle cx="520.3" cy="562.7" r="1.65"/><circle cx="519.7" cy="564.7" r="1.65"/><circle cx="519.8" cy="566.1" r="1.65"/><circle cx="518.8" cy="566.2" r="1.65"/><circle cx="519.8" cy="569.0" r="1.65"/><circle cx="520.3" cy="578.4" r="1.65"/><circle cx="520.7" cy="578.7" r="1.65"/>
</g>
<path d="M405.2 545.2L520.6 550" stroke="#3054a5" stroke-width="2.4" stroke-linecap="round" fill="none"/>
<rect x="399.8" y="475.5" width="125.6" height="122.7" fill="none" stroke="#000" stroke-width="1.1"/>
<path d="M408.9 598.2v2.2M423.4 598.2v2.2M437.9 598.2v2.2M452.4 598.2v2.2M466.9 598.2v2.2M481.4 598.2v2.2M495.9 598.2v2.2M510.4 598.2v2.2M524.9 598.2v2.2M399.8 483.5h-2.2M399.8 507.0h-2.2M399.8 530.5h-2.2M399.8 554.0h-2.2M399.8 577.5h-2.2" stroke="#000" stroke-width="0.8" fill="none"/>
<g font-family="'Liberation Sans',Arial,sans-serif" font-size="7.1" fill="#111">
<text x="408.9" y="607.5" text-anchor="middle">2.5</text>
<text x="423.4" y="607.5" text-anchor="middle">5.0</text>
<text x="437.9" y="607.5" text-anchor="middle">7.5</text>
<text x="452.4" y="607.5" text-anchor="middle">10.0</text>
<text x="466.9" y="607.5" text-anchor="middle">12.5</text>
<text x="481.4" y="607.5" text-anchor="middle">15.0</text>
<text x="495.9" y="607.5" text-anchor="middle">17.5</text>
<text x="510.4" y="607.5" text-anchor="middle">20.0</text>
<text x="524.9" y="607.5" text-anchor="middle">22.5</text>
<text x="396.2" y="486.0" text-anchor="end">6</text>
<text x="396.2" y="509.5" text-anchor="end">4</text>
<text x="396.2" y="533.0" text-anchor="end">2</text>
<text x="396.2" y="556.5" text-anchor="end">0</text>
<text x="396.2" y="580.0" text-anchor="end">−2</text>
</g>
<text x="455.8" y="470.2" font-family="'Liberation Sans',Arial,sans-serif" font-size="9.8" fill="#222" text-anchor="middle">ρ = -0.06, p-value = 0.24</text>
<text font-family="'Liberation Sans',Arial,sans-serif" font-size="9" fill="#111" text-anchor="middle"><tspan x="462.5" y="616.6">Distance from rpoC</tspan><tspan x="462.5" y="626.3">(Angstroms)</tspan></text>
<text transform="translate(385.2 537.1) rotate(-90)" font-family="'Liberation Sans',Arial,sans-serif" font-size="9" fill="#111" text-anchor="middle">Stringent Enrichment</text>
<g fill="#2b8ed0" fill-opacity="0.5">
<circle cx="558.9" cy="528.8" r="1.65"/><circle cx="558.8" cy="535.9" r="1.65"/><circle cx="559.6" cy="542.6" r="1.65"/><circle cx="558.9" cy="549.5" r="1.65"/><circle cx="557.2" cy="547.0" r="1.65"/><circle cx="558.9" cy="550.8" r="1.65"/><circle cx="564.6" cy="492.6" r="1.65"/><circle cx="563.6" cy="493.4" r="1.65"/><circle cx="564.5" cy="500.8" r="1.65"/><circle cx="563.9" cy="525.1" r="1.65"/><circle cx="564.3" cy="527.8" r="1.65"/><circle cx="563.9" cy="531.5" r="1.65"/><circle cx="564.3" cy="533.0" r="1.65"/><circle cx="564.3" cy="538.6" r="1.65"/><circle cx="564.3" cy="541.2" r="1.65"/><circle cx="564.2" cy="544.1" r="1.65"/><circle cx="564.6" cy="548.1" r="1.65"/><circle cx="565.2" cy="546.7" r="1.65"/><circle cx="564.3" cy="549.4" r="1.65"/><circle cx="564.8" cy="551.3" r="1.65"/><circle cx="564.0" cy="555.7" r="1.65"/><circle cx="563.2" cy="557.3" r="1.65"/><circle cx="564.1" cy="559.7" r="1.65"/><circle cx="563.9" cy="562.4" r="1.65"/><circle cx="565.3" cy="563.1" r="1.65"/><circle cx="564.0" cy="571.8" r="1.65"/><circle cx="563.8" cy="568.8" r="1.65"/><circle cx="564.5" cy="574.3" r="1.65"/><circle cx="568.2" cy="487.6" r="1.65"/><circle cx="567.1" cy="490.6" r="1.65"/><circle cx="568.2" cy="491.3" r="1.65"/><circle cx="568.1" cy="493.6" r="1.65"/><circle cx="566.5" cy="493.3" r="1.65"/><circle cx="567.6" cy="496.4" r="1.65"/><circle cx="567.8" cy="498.1" r="1.65"/><circle cx="566.1" cy="499.9" r="1.65"/><circle cx="567.8" cy="505.5" r="1.65"/><circle cx="570.3" cy="505.0" r="1.65"/><circle cx="567.7" cy="509.4" r="1.65"/><circle cx="565.9" cy="510.5" r="1.65"/><circle cx="567.6" cy="519.1" r="1.65"/><circle cx="567.7" cy="527.4" r="1.65"/><circle cx="567.8" cy="529.2" r="1.65"/><circle cx="567.9" cy="543.7" r="1.65"/><circle cx="570.5" cy="486.2" r="1.65"/><circle cx="570.1" cy="484.6" r="1.65"/><circle cx="571.2" cy="533.4" r="1.65"/><circle cx="570.3" cy="547.2" r="1.65"/><circle cx="568.8" cy="545.5" r="1.65"/><circle cx="571.2" cy="554.3" r="1.65"/><circle cx="573.4" cy="554.7" r="1.65"/><circle cx="571.3" cy="558.6" r="1.65"/><circle cx="571.0" cy="568.1" r="1.65"/><circle cx="574.9" cy="480.4" r="1.65"/><circle cx="576.8" cy="483.0" r="1.65"/><circle cx="575.3" cy="518.1" r="1.65"/><circle cx="575.2" cy="526.5" r="1.65"/><circle cx="574.9" cy="532.3" r="1.65"/><circle cx="574.6" cy="537.6" r="1.65"/><circle cx="574.5" cy="539.6" r="1.65"/><circle cx="575.0" cy="545.0" r="1.65"/><circle cx="574.5" cy="549.8" r="1.65"/><circle cx="574.4" cy="552.3" r="1.65"/><circle cx="574.9" cy="554.8" r="1.65"/><circle cx="574.6" cy="558.2" r="1.65"/><circle cx="574.4" cy="562.0" r="1.65"/><circle cx="576.0" cy="563.8" r="1.65"/><circle cx="575.3" cy="565.8" r="1.65"/><circle cx="574.6" cy="568.0" r="1.65"/><circle cx="575.3" cy="582.3" r="1.65"/><circle cx="576.9" cy="479.8" r="1.65"/><circle cx="577.4" cy="479.7" r="1.65"/><circle cx="577.3" cy="519.6" r="1.65"/><circle cx="576.6" cy="521.3" r="1.65"/><circle cx="576.9" cy="551.1" r="1.65"/><circle cx="577.2" cy="555.3" r="1.65"/><circle cx="576.8" cy="565.0" r="1.65"/><circle cx="576.7" cy="585.1" r="1.65"/><circle cx="581.2" cy="496.1" r="1.65"/><circle cx="582.0" cy="498.5" r="1.65"/><circle cx="582.0" cy="507.9" r="1.65"/><circle cx="583.9" cy="505.9" r="1.65"/><circle cx="581.4" cy="542.6" r="1.65"/><circle cx="581.9" cy="543.1" r="1.65"/><circle cx="581.3" cy="551.2" r="1.65"/><circle cx="581.4" cy="556.6" r="1.65"/><circle cx="583.9" cy="521.1" r="1.65"/><circle cx="583.7" cy="531.1" r="1.65"/><circle cx="583.6" cy="532.8" r="1.65"/><circle cx="585.4" cy="531.9" r="1.65"/><circle cx="583.9" cy="536.6" r="1.65"/><circle cx="583.8" cy="540.4" r="1.65"/><circle cx="584.1" cy="554.5" r="1.65"/><circle cx="583.5" cy="556.9" r="1.65"/><circle cx="583.8" cy="562.7" r="1.65"/><circle cx="585.2" cy="561.8" r="1.65"/><circle cx="587.9" cy="492.1" r="1.65"/><circle cx="586.0" cy="494.1" r="1.65"/><circle cx="587.4" cy="527.4" r="1.65"/><circle cx="587.8" cy="533.0" r="1.65"/><circle cx="587.3" cy="537.2" r="1.65"/><circle cx="587.4" cy="540.4" r="1.65"/><circle cx="587.5" cy="550.1" r="1.65"/><circle cx="589.9" cy="552.2" r="1.65"/><circle cx="588.0" cy="552.8" r="1.65"/><circle cx="587.4" cy="554.6" r="1.65"/><circle cx="587.8" cy="558.0" r="1.65"/><circle cx="588.2" cy="563.4" r="1.65"/><circle cx="587.9" cy="573.5" r="1.65"/><circle cx="593.2" cy="483.0" r="1.65"/><circle cx="592.7" cy="507.7" r="1.65"/><circle cx="593.0" cy="509.6" r="1.65"/><circle cx="592.1" cy="510.4" r="1.65"/><circle cx="593.3" cy="554.9" r="1.65"/><circle cx="592.7" cy="557.9" r="1.65"/><circle cx="592.3" cy="554.8" r="1.65"/><circle cx="594.1" cy="487.3" r="1.65"/><circle cx="594.6" cy="520.8" r="1.65"/><circle cx="594.6" cy="538.0" r="1.65"/><circle cx="597.0" cy="541.1" r="1.65"/><circle cx="599.4" cy="500.0" r="1.65"/><circle cx="598.5" cy="515.2" r="1.65"/><circle cx="600.8" cy="517.7" r="1.65"/><circle cx="599.2" cy="530.8" r="1.65"/><circle cx="598.2" cy="533.7" r="1.65"/><circle cx="598.6" cy="539.5" r="1.65"/><circle cx="599.0" cy="547.8" r="1.65"/><circle cx="599.1" cy="545.6" r="1.65"/><circle cx="598.5" cy="549.1" r="1.65"/><circle cx="598.6" cy="551.2" r="1.65"/><circle cx="598.7" cy="554.9" r="1.65"/><circle cx="599.2" cy="559.8" r="1.65"/><circle cx="599.3" cy="560.9" r="1.65"/><circle cx="599.1" cy="568.0" r="1.65"/><circle cx="598.9" cy="570.6" r="1.65"/><circle cx="601.0" cy="532.8" r="1.65"/><circle cx="602.9" cy="531.2" r="1.65"/><circle cx="600.9" cy="539.4" r="1.65"/><circle cx="600.8" cy="540.2" r="1.65"/><circle cx="600.5" cy="553.8" r="1.65"/><circle cx="602.9" cy="551.6" r="1.65"/><circle cx="600.6" cy="556.9" r="1.65"/><circle cx="600.7" cy="561.7" r="1.65"/><circle cx="601.2" cy="571.6" r="1.65"/><circle cx="603.9" cy="494.6" r="1.65"/><circle cx="603.9" cy="515.3" r="1.65"/><circle cx="603.8" cy="525.1" r="1.65"/><circle cx="604.4" cy="527.7" r="1.65"/><circle cx="603.2" cy="527.2" r="1.65"/><circle cx="603.5" cy="528.7" r="1.65"/><circle cx="603.2" cy="531.4" r="1.65"/><circle cx="603.2" cy="544.7" r="1.65"/><circle cx="603.3" cy="549.7" r="1.65"/><circle cx="603.8" cy="555.9" r="1.65"/><circle cx="603.6" cy="558.7" r="1.65"/><circle cx="603.9" cy="572.8" r="1.65"/><circle cx="605.0" cy="572.8" r="1.65"/><circle cx="606.1" cy="501.6" r="1.65"/><circle cx="604.6" cy="498.9" r="1.65"/><circle cx="606.4" cy="544.7" r="1.65"/><circle cx="605.7" cy="546.8" r="1.65"/><circle cx="606.1" cy="558.2" r="1.65"/><circle cx="606.2" cy="563.8" r="1.65"/><circle cx="607.4" cy="560.9" r="1.65"/><circle cx="606.1" cy="573.7" r="1.65"/><circle cx="609.9" cy="515.6" r="1.65"/><circle cx="609.3" cy="540.2" r="1.65"/><circle cx="609.1" cy="545.3" r="1.65"/><circle cx="609.8" cy="552.8" r="1.65"/><circle cx="610.8" cy="554.7" r="1.65"/><circle cx="609.7" cy="554.5" r="1.65"/><circle cx="607.2" cy="557.0" r="1.65"/><circle cx="610.0" cy="557.4" r="1.65"/><circle cx="609.5" cy="562.8" r="1.65"/><circle cx="609.4" cy="564.9" r="1.65"/><circle cx="609.4" cy="561.9" r="1.65"/><circle cx="609.3" cy="566.6" r="1.65"/><circle cx="609.2" cy="569.0" r="1.65"/><circle cx="611.7" cy="566.9" r="1.65"/><circle cx="609.1" cy="573.7" r="1.65"/><circle cx="609.7" cy="578.3" r="1.65"/><circle cx="609.2" cy="588.1" r="1.65"/><circle cx="611.7" cy="482.5" r="1.65"/><circle cx="613.4" cy="480.1" r="1.65"/><circle cx="611.6" cy="531.0" r="1.65"/><circle cx="611.3" cy="538.6" r="1.65"/><circle cx="613.1" cy="536.5" r="1.65"/><circle cx="611.4" cy="544.0" r="1.65"/><circle cx="610.9" cy="546.2" r="1.65"/><circle cx="609.9" cy="545.1" r="1.65"/><circle cx="611.7" cy="549.6" r="1.65"/><circle cx="611.7" cy="551.2" r="1.65"/><circle cx="614.0" cy="554.1" r="1.65"/><circle cx="611.4" cy="553.9" r="1.65"/><circle cx="613.5" cy="555.2" r="1.65"/><circle cx="611.3" cy="556.9" r="1.65"/><circle cx="609.8" cy="554.6" r="1.65"/><circle cx="611.2" cy="558.7" r="1.65"/><circle cx="611.0" cy="565.0" r="1.65"/><circle cx="611.4" cy="566.4" r="1.65"/><circle cx="610.0" cy="564.8" r="1.65"/><circle cx="611.2" cy="573.7" r="1.65"/><circle cx="615.1" cy="502.5" r="1.65"/><circle cx="615.7" cy="508.4" r="1.65"/><circle cx="615.7" cy="529.9" r="1.65"/><circle cx="614.1" cy="531.9" r="1.65"/><circle cx="615.5" cy="540.6" r="1.65"/><circle cx="614.8" cy="543.2" r="1.65"/><circle cx="615.1" cy="548.2" r="1.65"/><circle cx="615.2" cy="550.4" r="1.65"/><circle cx="614.9" cy="562.3" r="1.65"/><circle cx="615.5" cy="564.7" r="1.65"/><circle cx="614.4" cy="565.1" r="1.65"/><circle cx="615.6" cy="577.0" r="1.65"/><circle cx="618.3" cy="503.3" r="1.65"/><circle cx="618.4" cy="510.8" r="1.65"/><circle cx="617.8" cy="554.5" r="1.65"/><circle cx="617.9" cy="556.2" r="1.65"/><circle cx="616.8" cy="555.8" r="1.65"/><circle cx="618.1" cy="564.9" r="1.65"/><circle cx="617.3" cy="566.0" r="1.65"/><circle cx="618.4" cy="567.2" r="1.65"/><circle cx="618.1" cy="577.9" r="1.65"/><circle cx="619.8" cy="545.3" r="1.65"/><circle cx="623.1" cy="531.1" r="1.65"/><circle cx="625.1" cy="531.7" r="1.65"/><circle cx="623.9" cy="540.0" r="1.65"/><circle cx="623.5" cy="545.0" r="1.65"/><circle cx="623.8" cy="555.3" r="1.65"/><circle cx="623.7" cy="556.7" r="1.65"/><circle cx="623.2" cy="559.3" r="1.65"/><circle cx="623.8" cy="561.5" r="1.65"/><circle cx="623.2" cy="565.9" r="1.65"/><circle cx="623.8" cy="567.7" r="1.65"/><circle cx="622.9" cy="572.9" r="1.65"/><circle cx="623.8" cy="579.7" r="1.65"/><circle cx="623.0" cy="583.1" r="1.65"/><circle cx="627.3" cy="526.7" r="1.65"/><circle cx="627.8" cy="545.2" r="1.65"/><circle cx="627.9" cy="557.0" r="1.65"/><circle cx="625.3" cy="555.7" r="1.65"/><circle cx="627.5" cy="558.6" r="1.65"/><circle cx="628.2" cy="559.7" r="1.65"/><circle cx="627.6" cy="560.7" r="1.65"/><circle cx="627.7" cy="562.4" r="1.65"/><circle cx="629.6" cy="539.0" r="1.65"/><circle cx="629.8" cy="565.7" r="1.65"/><circle cx="630.2" cy="563.2" r="1.65"/><circle cx="630.1" cy="567.5" r="1.65"/><circle cx="629.6" cy="575.2" r="1.65"/><circle cx="632.5" cy="555.4" r="1.65"/><circle cx="632.8" cy="557.6" r="1.65"/><circle cx="632.3" cy="560.8" r="1.65"/><circle cx="632.2" cy="561.8" r="1.65"/><circle cx="632.6" cy="566.9" r="1.65"/><circle cx="632.3" cy="571.2" r="1.65"/><circle cx="632.8" cy="573.3" r="1.65"/><circle cx="634.5" cy="560.5" r="1.65"/><circle cx="634.4" cy="571.8" r="1.65"/><circle cx="634.3" cy="570.4" r="1.65"/><circle cx="638.6" cy="553.7" r="1.65"/><circle cx="639.1" cy="560.9" r="1.65"/><circle cx="639.0" cy="561.4" r="1.65"/><circle cx="641.6" cy="558.5" r="1.65"/><circle cx="638.2" cy="568.1" r="1.65"/><circle cx="639.0" cy="568.5" r="1.65"/><circle cx="640.5" cy="555.4" r="1.65"/><circle cx="640.6" cy="558.4" r="1.65"/><circle cx="641.0" cy="560.5" r="1.65"/><circle cx="642.5" cy="557.9" r="1.65"/><circle cx="656.0" cy="546.0" r="1.65"/><circle cx="656.4" cy="557.8" r="1.65"/><circle cx="656.9" cy="558.5" r="1.65"/><circle cx="656.6" cy="567.4" r="1.65"/><circle cx="656.7" cy="586.2" r="1.65"/><circle cx="656.9" cy="592.2" r="1.65"/><circle cx="660.6" cy="537.5" r="1.65"/><circle cx="660.4" cy="539.9" r="1.65"/><circle cx="658.5" cy="539.6" r="1.65"/><circle cx="661.0" cy="551.7" r="1.65"/><circle cx="660.5" cy="555.7" r="1.65"/><circle cx="664.5" cy="553.9" r="1.65"/><circle cx="666.7" cy="556.3" r="1.65"/><circle cx="665.1" cy="554.8" r="1.65"/><circle cx="664.5" cy="557.8" r="1.65"/><circle cx="674.5" cy="554.3" r="1.65"/><circle cx="674.2" cy="554.8" r="1.65"/><circle cx="676.1" cy="555.7" r="1.65"/><circle cx="674.6" cy="560.5" r="1.65"/><circle cx="674.5" cy="562.9" r="1.65"/><circle cx="674.2" cy="570.8" r="1.65"/><circle cx="674.7" cy="574.7" r="1.65"/><circle cx="678.4" cy="544.9" r="1.65"/><circle cx="678.8" cy="557.8" r="1.65"/><circle cx="677.0" cy="556.9" r="1.65"/><circle cx="678.6" cy="558.8" r="1.65"/><circle cx="679.0" cy="561.1" r="1.65"/>
</g>
<path d="M558.9 535.9L679.3 567" stroke="#3054a5" stroke-width="2.4" stroke-linecap="round" fill="none"/>
<rect x="552.6" y="475.5" width="131.5" height="122.7" fill="none" stroke="#000" stroke-width="1.1"/>
<path d="M553.8 598.2v2.2M581.5 598.2v2.2M609.6 598.2v2.2M637.4 598.2v2.2M665.2 598.2v2.2M552.6 483.5h-2.2M552.6 507.0h-2.2M552.6 530.5h-2.2M552.6 554.0h-2.2M552.6 577.5h-2.2" stroke="#000" stroke-width="0.8" fill="none"/>
<g font-family="'Liberation Sans',Arial,sans-serif" font-size="7.1" fill="#111">
<text x="553.8" y="607.5" text-anchor="middle">0</text>
<text x="581.5" y="607.5" text-anchor="middle">10</text>
<text x="609.6" y="607.5" text-anchor="middle">20</text>
<text x="637.4" y="607.5" text-anchor="middle">30</text>
<text x="665.2" y="607.5" text-anchor="middle">40</text>
<text x="549.0" y="486.0" text-anchor="end">6</text>
<text x="549.0" y="509.5" text-anchor="end">4</text>
<text x="549.0" y="533.0" text-anchor="end">2</text>
<text x="549.0" y="556.5" text-anchor="end">0</text>
<text x="549.0" y="580.0" text-anchor="end">−2</text>
</g>
<text x="619.4" y="470.2" font-family="'Liberation Sans',Arial,sans-serif" font-size="9.8" fill="#222" text-anchor="middle">ρ = -0.35, p-value &lt; 10<tspan font-size="6" dy="-3.6">-7</tspan></text>
<text font-family="'Liberation Sans',Arial,sans-serif" font-size="9" fill="#111" text-anchor="middle"><tspan x="618.4" y="616.6">Distance from DNA</tspan><tspan x="618.4" y="626.3">(Angstroms)</tspan></text>
<text transform="translate(538.4 537.1) rotate(-90)" font-family="'Liberation Sans',Arial,sans-serif" font-size="9" fill="#111" text-anchor="middle">Stringent Enrichment</text>
<text x="0.5" y="466" font-family="'Liberation Sans',Arial,sans-serif" font-size="14.5" fill="#111">c</text>
<text x="357.5" y="466" font-family="'Liberation Sans',Arial,sans-serif" font-size="14.5" fill="#111">d</text>
</g>
</svg>
</body></html>
